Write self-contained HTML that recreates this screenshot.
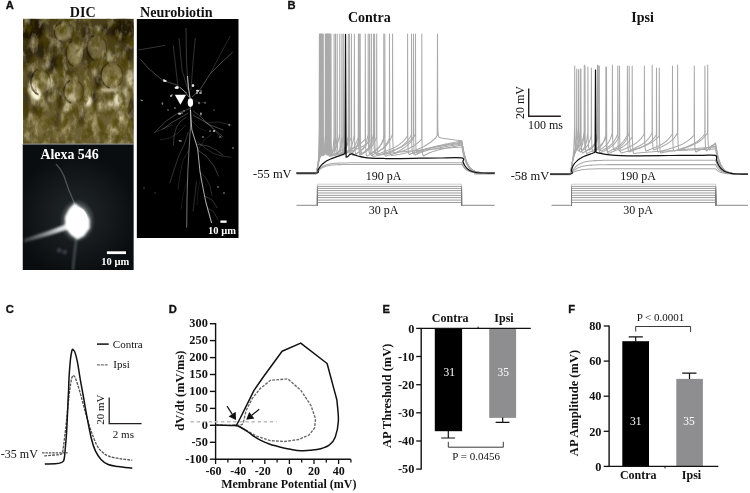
<!DOCTYPE html>
<html><head><meta charset="utf-8"><title>Figure</title>
<style>html,body{margin:0;padding:0;background:#fff}svg{display:block}</style>
</head><body>
<svg width="750" height="493" viewBox="0 0 750 493">
<rect width="750" height="493" fill="#fff"/>
<defs>
<filter id="b05" x="-50%" y="-50%" width="200%" height="200%"><feGaussianBlur stdDeviation="0.6"/></filter>
<filter id="b1" x="-50%" y="-50%" width="200%" height="200%"><feGaussianBlur stdDeviation="1"/></filter>
<filter id="b2" x="-50%" y="-50%" width="200%" height="200%"><feGaussianBlur stdDeviation="1.5"/></filter>
<filter id="b3" x="-50%" y="-50%" width="200%" height="200%"><feGaussianBlur stdDeviation="2.2"/></filter>
<filter id="b4" x="-50%" y="-50%" width="200%" height="200%"><feGaussianBlur stdDeviation="4"/></filter>
<filter id="b8" x="-50%" y="-50%" width="200%" height="200%"><feGaussianBlur stdDeviation="8"/></filter>
<filter id="noise" x="0" y="0" width="100%" height="100%">
<feTurbulence type="fractalNoise" baseFrequency="0.13 0.08" numOctaves="4" seed="4" result="n"/>
<feColorMatrix type="matrix" values="0 0 0 0 0.92  0 0 0 0 0.84  0 0 0 0 0.55  2.6 0 0 0 -1.2"/>
<feGaussianBlur stdDeviation="0.5"/>
</filter>
<filter id="noiseD" x="0" y="0" width="100%" height="100%">
<feTurbulence type="fractalNoise" baseFrequency="0.14 0.085" numOctaves="4" seed="11" result="n"/>
<feColorMatrix type="matrix" values="0 0 0 0 0.07  0 0 0 0 0.05  0 0 0 0 0  0 2.8 0 0 -1.2"/>
<feGaussianBlur stdDeviation="0.5"/>
</filter>
<clipPath id="cDIC"><rect x="23" y="18.7" width="110.8" height="125.3"/></clipPath>
<clipPath id="cAL"><rect x="22.5" y="144.3" width="111.3" height="125.8"/></clipPath>
<clipPath id="cNB"><rect x="136.6" y="18.9" width="102.1" height="219.1"/></clipPath>
<linearGradient id="topdark" x1="0" y1="0" x2="0" y2="1"><stop offset="0" stop-color="#1a1304" stop-opacity="0.3"/><stop offset="0.6" stop-color="#1a1304" stop-opacity="0.15"/><stop offset="1" stop-color="#1a1304" stop-opacity="0"/></linearGradient>
<radialGradient id="glow"><stop offset="0" stop-color="#fff" stop-opacity="1"/><stop offset="0.35" stop-color="#fff" stop-opacity="0.95"/><stop offset="0.6" stop-color="#cfd6d6" stop-opacity="0.45"/><stop offset="1" stop-color="#9aa" stop-opacity="0"/></radialGradient>
<radialGradient id="haze"><stop offset="0" stop-color="#3a4346" stop-opacity="1"/><stop offset="1" stop-color="#3a4346" stop-opacity="0"/></radialGradient>
</defs>
<g clip-path="url(#cDIC)">
<rect x="23" y="18.7" width="110.8" height="125.3" fill="#675c32"/>
<rect x="23" y="112" width="111" height="33" fill="#6f6336" opacity="0.5" filter="url(#b4)"/>
<rect x="23" y="18" width="111" height="40" fill="#2e260c" opacity="0.3" filter="url(#b8)"/>
<ellipse cx="74.8" cy="53.4" rx="8" ry="12" fill="#a09260" opacity="0.7" filter="url(#b2)"/>
<ellipse cx="62" cy="32" rx="9" ry="9" fill="#a09260" opacity="0.7" filter="url(#b2)"/>
<ellipse cx="97" cy="47" rx="10" ry="12" fill="#a09260" opacity="0.6" filter="url(#b2)"/>
<ellipse cx="111.8" cy="75.3" rx="10" ry="12" fill="#a09260" opacity="0.6" filter="url(#b2)"/>
<ellipse cx="40.5" cy="82" rx="9" ry="11" fill="#a09260" opacity="0.5" filter="url(#b2)"/>
<ellipse cx="73.4" cy="91.7" rx="8" ry="10" fill="#a09260" opacity="0.5" filter="url(#b2)"/>
<ellipse cx="90" cy="118" rx="8" ry="12" fill="#a09260" opacity="0.35" filter="url(#b2)"/>
<ellipse cx="40" cy="125" rx="9" ry="10" fill="#a09260" opacity="0.3" filter="url(#b2)"/>
<ellipse cx="118" cy="125" rx="9" ry="10" fill="#a09260" opacity="0.35" filter="url(#b2)"/>
<ellipse cx="64" cy="125" rx="7" ry="10" fill="#a09260" opacity="0.3" filter="url(#b2)"/>
<ellipse cx="32" cy="30" rx="12" ry="12" fill="#140f02" opacity="0.85" filter="url(#b2)"/>
<ellipse cx="28" cy="55" rx="6" ry="14" fill="#140f02" opacity="0.6" filter="url(#b2)"/>
<ellipse cx="45" cy="50" rx="10" ry="10" fill="#140f02" opacity="0.6" filter="url(#b2)"/>
<ellipse cx="123" cy="30" rx="12" ry="12" fill="#140f02" opacity="0.8" filter="url(#b2)"/>
<ellipse cx="128" cy="52" rx="6" ry="10" fill="#140f02" opacity="0.5" filter="url(#b2)"/>
<ellipse cx="58" cy="62" rx="10" ry="6" fill="#140f02" opacity="0.7" filter="url(#b2)"/>
<ellipse cx="86" cy="34" rx="4" ry="10" fill="#140f02" opacity="0.55" filter="url(#b2)"/>
<ellipse cx="88" cy="60" rx="4" ry="10" fill="#140f02" opacity="0.5" filter="url(#b2)"/>
<ellipse cx="50" cy="68" rx="5" ry="5" fill="#140f02" opacity="0.6" filter="url(#b2)"/>
<ellipse cx="98" cy="82" rx="3" ry="9" fill="#140f02" opacity="0.8" filter="url(#b2)"/>
<ellipse cx="94" cy="98" rx="3" ry="7" fill="#140f02" opacity="0.6" filter="url(#b2)"/>
<ellipse cx="48" cy="95" rx="3" ry="9" fill="#140f02" opacity="0.6" filter="url(#b2)"/>
<ellipse cx="60" cy="98" rx="3" ry="12" fill="#140f02" opacity="0.6" filter="url(#b2)"/>
<ellipse cx="38" cy="109" rx="6" ry="5" fill="#140f02" opacity="0.55" filter="url(#b2)"/>
<ellipse cx="32" cy="76" rx="5" ry="4" fill="#140f02" opacity="0.6" filter="url(#b2)"/>
<ellipse cx="57" cy="122" rx="3" ry="12" fill="#140f02" opacity="0.4" filter="url(#b2)"/>
<ellipse cx="82" cy="118" rx="4" ry="8" fill="#140f02" opacity="0.45" filter="url(#b2)"/>
<ellipse cx="131" cy="110" rx="4" ry="12" fill="#140f02" opacity="0.55" filter="url(#b2)"/>
<ellipse cx="108" cy="30" rx="8" ry="6" fill="#140f02" opacity="0.4" filter="url(#b2)"/>
<ellipse cx="70" cy="72" rx="5" ry="4" fill="#140f02" opacity="0.4" filter="url(#b2)"/>
<ellipse cx="26" cy="100" rx="3" ry="20" fill="#140f02" opacity="0.5" filter="url(#b2)"/>
<ellipse cx="34" cy="91" rx="5" ry="9" fill="#fff8dc" opacity="1.0" filter="url(#b2)" transform="rotate(-35 34 91)"/>
<ellipse cx="37" cy="96" rx="4" ry="4" fill="#fff8dc" opacity="1.0" filter="url(#b2)" transform="rotate(0 37 96)"/>
<ellipse cx="51" cy="81" rx="3" ry="6" fill="#fff8dc" opacity="0.8" filter="url(#b2)" transform="rotate(0 51 81)"/>
<ellipse cx="50.5" cy="99" rx="3" ry="3" fill="#fff8dc" opacity="0.7" filter="url(#b2)" transform="rotate(0 50.5 99)"/>
<ellipse cx="108" cy="90" rx="9" ry="1.6" fill="#fff8dc" opacity="0.8" filter="url(#b2)" transform="rotate(0 108 90)"/>
<ellipse cx="88" cy="102" rx="4" ry="5" fill="#fff8dc" opacity="0.85" filter="url(#b2)" transform="rotate(30 88 102)"/>
<ellipse cx="117.5" cy="100" rx="4" ry="6" fill="#fff8dc" opacity="0.85" filter="url(#b2)" transform="rotate(0 117.5 100)"/>
<ellipse cx="120.5" cy="116" rx="4" ry="5" fill="#fff8dc" opacity="0.6" filter="url(#b2)" transform="rotate(0 120.5 116)"/>
<ellipse cx="111" cy="104" rx="4" ry="4" fill="#fff8dc" opacity="0.6" filter="url(#b2)" transform="rotate(0 111 104)"/>
<ellipse cx="100.6" cy="106" rx="3" ry="4" fill="#fff8dc" opacity="0.6" filter="url(#b2)" transform="rotate(0 100.6 106)"/>
<ellipse cx="130" cy="78" rx="3" ry="10" fill="#fff8dc" opacity="0.7" filter="url(#b2)" transform="rotate(0 130 78)"/>
<ellipse cx="46" cy="66" rx="4" ry="3" fill="#fff8dc" opacity="0.55" filter="url(#b2)" transform="rotate(-30 46 66)"/>
<ellipse cx="72" cy="97" rx="5" ry="4" fill="#fff8dc" opacity="0.5" filter="url(#b2)" transform="rotate(0 72 97)"/>
<ellipse cx="126" cy="92" rx="3" ry="5" fill="#fff8dc" opacity="0.5" filter="url(#b2)" transform="rotate(0 126 92)"/>
<ellipse cx="68" cy="108" rx="5" ry="4" fill="#fff8dc" opacity="0.45" filter="url(#b2)" transform="rotate(0 68 108)"/>
<path d="M72.1,41.0 A9,13 0 0 0 73.0,66.0" fill="none" stroke="#140f02" stroke-width="1.6" opacity="0.6" filter="url(#b05)"/>
<path d="M79.3,42.4 A9,13 0 0 1 80.2,63.8" fill="none" stroke="#140f02" stroke-width="1.1" opacity="0.4" filter="url(#b05)"/>
<path d="M108.5,62.9 A11,13 0 0 0 109.6,87.9" fill="none" stroke="#140f02" stroke-width="1.6" opacity="0.6" filter="url(#b05)"/>
<path d="M117.3,64.2 A11,13 0 0 1 118.4,85.7" fill="none" stroke="#140f02" stroke-width="1.1" opacity="0.4" filter="url(#b05)"/>
<path d="M37.5,69.7 A10,13 0 0 0 38.5,94.6" fill="none" stroke="#140f02" stroke-width="1.6" opacity="0.6" filter="url(#b05)"/>
<path d="M45.5,71.0 A10,13 0 0 1 46.5,92.4" fill="none" stroke="#140f02" stroke-width="1.1" opacity="0.4" filter="url(#b05)"/>
<path d="M70.4,80.3 A10,12 0 0 0 71.4,103.3" fill="none" stroke="#140f02" stroke-width="1.6" opacity="0.6" filter="url(#b05)"/>
<path d="M78.4,81.5 A10,12 0 0 1 79.4,101.3" fill="none" stroke="#140f02" stroke-width="1.1" opacity="0.4" filter="url(#b05)"/>
<path d="M61.0,22.5 A10,10 0 0 0 62.0,41.7" fill="none" stroke="#140f02" stroke-width="1.6" opacity="0.6" filter="url(#b05)"/>
<path d="M69.0,23.5 A10,10 0 0 1 70.0,40.0" fill="none" stroke="#140f02" stroke-width="1.1" opacity="0.4" filter="url(#b05)"/>
<path d="M93.7,35.5 A10,13 0 0 0 94.7,60.5" fill="none" stroke="#140f02" stroke-width="1.6" opacity="0.6" filter="url(#b05)"/>
<path d="M101.7,36.9 A10,13 0 0 1 102.7,58.3" fill="none" stroke="#140f02" stroke-width="1.1" opacity="0.4" filter="url(#b05)"/>
<rect x="23" y="18.7" width="110.8" height="62" fill="url(#topdark)"/>
<ellipse cx="64" cy="32" rx="8" ry="8" fill="#b0a678" opacity="0.35" filter="url(#b2)"/>
<ellipse cx="75" cy="53" rx="6" ry="10" fill="#b0a678" opacity="0.3" filter="url(#b2)"/>
<rect x="23" y="18.7" width="110.8" height="125.3" filter="url(#noise)" opacity="0.5"/>
<rect x="23" y="18.7" width="110.8" height="125.3" filter="url(#noiseD)" opacity="0.75"/>
</g>
<rect x="22.5" y="143.6" width="111.3" height="1" fill="#9aa0a0"/>
<g clip-path="url(#cAL)">
<rect x="22.5" y="144.3" width="111.3" height="125.8" fill="#0a0d0f"/>
<ellipse cx="76" cy="215" rx="62" ry="62" fill="url(#haze)" opacity="0.5"/>
<defs><linearGradient id="dl" gradientUnits="userSpaceOnUse" x1="66" y1="226" x2="24" y2="240"><stop offset="0" stop-color="#fff" stop-opacity="1"/><stop offset="0.45" stop-color="#e8eeee" stop-opacity="0.6"/><stop offset="1" stop-color="#c0c8c8" stop-opacity="0.25"/></linearGradient></defs>
<path d="M68,223.5 L48,231 L24,239 L24,242.5 L49,235.5 L69,229 Z" fill="url(#dl)" filter="url(#b1)"/>
<path d="M74.6,204 C72,197 70,193 69.2,191 C67.5,186.5 66,182 64,176 C62,171 59,167 56,164" stroke="#cfd8d8" stroke-width="1.3" fill="none" opacity="0.3" filter="url(#b05)"/>
<path d="M76.6,236 C75.5,246 74.4,254 73.8,260.3 L72.9,270" stroke="#cfd8d8" stroke-width="2.2" fill="none" opacity="0.3" filter="url(#b1)"/>
<circle cx="59.2" cy="250.3" r="2.4" fill="#aab" opacity="0.28" filter="url(#b1)"/>
<circle cx="64.7" cy="252.1" r="2.4" fill="#aab" opacity="0.28" filter="url(#b1)"/>
<ellipse cx="77.3" cy="221" rx="18" ry="22" fill="url(#glow)"/>
<path d="M74.6,203 L84,210 L89.5,219 L89.8,228 L84,236 L77.5,239.5 L71,235 L65.5,228 L65,217 L69,209 Z" fill="#fff" filter="url(#b1)"/>
<ellipse cx="77.3" cy="221.5" rx="10.5" ry="14" fill="#fff" filter="url(#b05)"/>
</g>
<text x="40.4" y="159.4" font-size="13.9" font-weight="bold" text-anchor="start" fill="#fff" font-family='"Liberation Serif", serif'>Alexa 546</text>
<rect x="106.9" y="251.3" width="19.1" height="2.8" fill="#fff"/>
<text x="115.3" y="265.4" font-size="10.5" font-weight="bold" text-anchor="middle" fill="#fff" font-family='"Liberation Serif", serif'>10 µm</text>
<g clip-path="url(#cNB)">
<rect x="136.6" y="18.9" width="102.1" height="219.1" fill="#000"/>
<path d="M190,98 L187.5,80 L186.5,60 L186,28" fill="none" stroke="#fff" stroke-width="0.56" opacity="0.39" stroke-linejoin="round"/>
<path d="M188,90 L182,70 L179,38" fill="none" stroke="#fff" stroke-width="0.56" opacity="0.35" stroke-linejoin="round"/>
<path d="M178,88 L175.5,65 L173.2,45" fill="none" stroke="#fff" stroke-width="0.56" opacity="0.35" stroke-linejoin="round"/>
<path d="M191,90 L193,62 L195.3,38" fill="none" stroke="#fff" stroke-width="0.56" opacity="0.35" stroke-linejoin="round"/>
<path d="M192,97 L200,89.6 L210.5,73.3 L222,62 L232.6,52.3" fill="none" stroke="#fff" stroke-width="0.64" opacity="0.45" stroke-linejoin="round"/>
<path d="M210.5,73.3 L220,55 L230.3,36" fill="none" stroke="#fff" stroke-width="0.48" opacity="0.32" stroke-linejoin="round"/>
<path d="M187,93 L176.7,85 L162.7,80.3 L148.7,68.7 L140.5,59.3" fill="none" stroke="#fff" stroke-width="0.64" opacity="0.42" stroke-linejoin="round"/>
<path d="M138.2,50 L150,48 L165,45.3" fill="none" stroke="#fff" stroke-width="0.96" opacity="0.21" stroke-linejoin="round"/>
<path d="M174.8,94.8 L186,94.8 L180.4,104.8 Z" fill="#fff"/>
<ellipse cx="190.4" cy="102.6" rx="2.7" ry="4.3" fill="#fff"/>
<path d="M190.3,106 L190.6,125 L189,150 L187.8,171.7 L187,200 L186.7,227.6" fill="none" stroke="#fff" stroke-width="0.80" opacity="0.56" stroke-linejoin="round"/>
<path d="M190.5,110 L191.8,129.7 L197.6,148.3 L200,171.7 L203,188 L205.8,202 L211.6,223" fill="none" stroke="#fff" stroke-width="1.04" opacity="0.66" stroke-linejoin="round"/>
<path d="M197.6,150 L206,156 L214,166 L218.6,176.3" fill="none" stroke="#fff" stroke-width="0.56" opacity="0.42" stroke-linejoin="round"/>
<path d="M196,144 L208,146 L216,150 L223.3,155.3" fill="none" stroke="#fff" stroke-width="0.56" opacity="0.39" stroke-linejoin="round"/>
<path d="M204.6,196 L212,200 L217.5,208" fill="none" stroke="#fff" stroke-width="0.56" opacity="0.35" stroke-linejoin="round"/>
<path d="M207,208 L214,212 L218,220" fill="none" stroke="#fff" stroke-width="0.48" opacity="0.35" stroke-linejoin="round"/>
<path d="M188.3,132 L184,145 L179,155.3 L174,170 L169.7,183.3" fill="none" stroke="#fff" stroke-width="0.56" opacity="0.35" stroke-linejoin="round"/>
<path d="M196.5,181 L195,195 L193,211.3" fill="none" stroke="#fff" stroke-width="0.56" opacity="0.32" stroke-linejoin="round"/>
<path d="M155.7,132 L165,128 L172,125" fill="none" stroke="#fff" stroke-width="0.56" opacity="0.28" stroke-linejoin="round"/>
<path d="M188.3,113 L180,118 L172,122.3 L162.7,129.3" fill="none" stroke="#fff" stroke-width="0.64" opacity="0.42" stroke-linejoin="round"/>
<path d="M193,115.3 L200,119 L209.3,124.6 L223.3,130" fill="none" stroke="#fff" stroke-width="0.64" opacity="0.42" stroke-linejoin="round"/>
<path d="M203,120 L212,128 L222,138" fill="none" stroke="#fff" stroke-width="0.48" opacity="0.28" stroke-linejoin="round"/>
<path d="M200,171.7 L206,178 L210,186 L212,196" fill="none" stroke="#fff" stroke-width="0.48" opacity="0.32" stroke-linejoin="round"/>
<path d="M189,150 L183,160 L180,175 L178,190" fill="none" stroke="#fff" stroke-width="0.48" opacity="0.24" stroke-linejoin="round"/>
<path d="M187.5,180 L183,195 L181,210" fill="none" stroke="#fff" stroke-width="0.40" opacity="0.21" stroke-linejoin="round"/>
<path d="M198,150 L204,140 L212,134" fill="none" stroke="#fff" stroke-width="0.40" opacity="0.28" stroke-linejoin="round"/>
<path d="M191,120 L199,128 L206,131" fill="none" stroke="#fff" stroke-width="0.40" opacity="0.28" stroke-linejoin="round"/>
<path d="M186,125 L178,133 L170,138 L160,140" fill="none" stroke="#fff" stroke-width="0.48" opacity="0.28" stroke-linejoin="round"/>
<path d="M193,100 L200,103 L207,102" fill="none" stroke="#fff" stroke-width="0.40" opacity="0.28" stroke-linejoin="round"/>
<path d="M201,176 L198,190 L197,205" fill="none" stroke="#fff" stroke-width="0.40" opacity="0.24" stroke-linejoin="round"/>
<ellipse cx="176.7" cy="87.8" rx="2.2" ry="1.3" fill="#fff" opacity="0.9"/>
<ellipse cx="165" cy="81" rx="1.8" ry="0.9" fill="#fff" opacity="0.9"/>
<ellipse cx="197.6" cy="90.8" rx="1.6" ry="1.0" fill="#fff" opacity="0.9"/>
<ellipse cx="193" cy="85.5" rx="1.2" ry="1.5" fill="#fff" opacity="0.9"/>
<ellipse cx="200.5" cy="93" rx="1.5" ry="0.8" fill="#fff" opacity="0.9"/>
<ellipse cx="171" cy="96" rx="1.2" ry="0.8" fill="#fff" opacity="0.9"/>
<path d="M189,97 L184,91 L180,87.3" fill="none" stroke="#fff" stroke-width="0.80" opacity="0.56" stroke-linejoin="round"/>
<path d="M190,98 L188.5,88 L187.5,76" fill="none" stroke="#fff" stroke-width="1.12" opacity="0.63" stroke-linejoin="round"/>
<path d="M189.7,108.7 L178,113 L166.4,120.9 L160,127 L154.3,133" fill="none" stroke="#fff" stroke-width="0.56" opacity="0.42" stroke-linejoin="round"/>
<path d="M186.7,116.8 L180,122 L176.6,126.9 L174,136 L173.5,145.2" fill="none" stroke="#fff" stroke-width="0.56" opacity="0.39" stroke-linejoin="round"/>
<path d="M192.8,110.7 L200,116 L207,122.9 L215,130 L223.2,137.1" fill="none" stroke="#fff" stroke-width="0.56" opacity="0.42" stroke-linejoin="round"/>
<path d="M207,122.9 L218,122 L231.3,124.9" fill="none" stroke="#fff" stroke-width="0.48" opacity="0.32" stroke-linejoin="round"/>
<path d="M196.9,141.1 L205,148 L213.1,153.3 L222,156 L231.3,157.4" fill="none" stroke="#fff" stroke-width="0.48" opacity="0.35" stroke-linejoin="round"/>
<ellipse cx="179.6" cy="113.8" rx="1.6" ry="1.0" fill="#fff" opacity="0.8"/>
<ellipse cx="142" cy="100.6" rx="1.0" ry="0.7" fill="#fff" opacity="0.6"/>
<ellipse cx="162.4" cy="103.6" rx="0.8" ry="1.4" fill="#fff" opacity="0.5"/>
<ellipse cx="200.9" cy="113.8" rx="0.9" ry="1.6" fill="#fff" opacity="0.6"/>
<ellipse cx="214" cy="131" rx="1.2" ry="0.9" fill="#fff" opacity="0.7"/>
<ellipse cx="203" cy="137" rx="1.0" ry="0.8" fill="#fff" opacity="0.6"/>
<ellipse cx="179.6" cy="140.7" rx="1.0" ry="0.8" fill="#fff" opacity="0.6"/>
<ellipse cx="229.3" cy="125" rx="1.0" ry="1.2" fill="#fff" opacity="0.4"/>
<ellipse cx="175" cy="108" rx="1.2" ry="0.8" fill="#fff" opacity="0.5"/>
<ellipse cx="184" cy="111" rx="1.0" ry="0.7" fill="#fff" opacity="0.5"/>
<ellipse cx="199" cy="103" rx="0.8" ry="1.2" fill="#fff" opacity="0.5"/>
<circle cx="164" cy="80" r="0.96" fill="#fff" opacity="0.7"/>
<circle cx="177" cy="87" r="1.04" fill="#fff" opacity="0.7"/>
<circle cx="197" cy="93" r="0.96" fill="#fff" opacity="0.7"/>
<circle cx="201" cy="91" r="0.80" fill="#fff" opacity="0.7"/>
<circle cx="172" cy="95" r="0.72" fill="#fff" opacity="0.7"/>
<circle cx="168" cy="110" r="0.64" fill="#fff" opacity="0.7"/>
<circle cx="182" cy="113" r="0.80" fill="#fff" opacity="0.7"/>
<circle cx="205" cy="103" r="0.64" fill="#fff" opacity="0.7"/>
<circle cx="210" cy="131" r="0.80" fill="#fff" opacity="0.7"/>
<circle cx="220" cy="137" r="0.72" fill="#fff" opacity="0.7"/>
<circle cx="233" cy="148" r="0.72" fill="#fff" opacity="0.7"/>
<circle cx="181" cy="141" r="0.72" fill="#fff" opacity="0.7"/>
<circle cx="218" cy="187" r="0.72" fill="#fff" opacity="0.7"/>
<circle cx="224" cy="193" r="0.72" fill="#fff" opacity="0.7"/>
<circle cx="144" cy="188" r="0.56" fill="#fff" opacity="0.7"/>
<circle cx="155" cy="193" r="0.48" fill="#fff" opacity="0.7"/>
<circle cx="141" cy="100" r="0.56" fill="#fff" opacity="0.7"/>
<circle cx="214" cy="110" r="0.56" fill="#fff" opacity="0.7"/>
</g>
<rect x="220.4" y="220.5" width="6.2" height="2.3" fill="#fff"/>
<text x="222" y="233.6" font-size="10.5" font-weight="bold" text-anchor="middle" fill="#fff" font-family='"Liberation Serif", serif'>10 µm</text>
<text x="69.8" y="17.4" font-size="14.1" font-weight="bold" text-anchor="start" fill="#111" font-family='"Liberation Serif", serif'>DIC</text>
<text x="140" y="17.2" font-size="14.1" font-weight="bold" text-anchor="start" fill="#111" font-family='"Liberation Serif", serif'>Neurobiotin</text>
<path d="M296.5,173.0 L316.7,173.0 L317.1,169.7 L317.6,166.7 L318.0,163.7 L318.4,159.5 L318.8,150.1 L319.2,126.0 L319.4,34.0 L319.5,139.5 L319.6,147.5 L319.7,151.3 L319.9,153.0 L320.2,153.5 L320.4,152.6 L320.6,151.6 L320.8,150.2 L321.0,147.6 L321.2,142.8 L321.5,134.0 L321.6,34.0 L321.7,139.5 L321.9,147.5 L322.2,151.3 L322.6,153.0 L323.0,153.5 L323.4,152.5 L323.8,151.5 L324.2,150.0 L324.6,147.4 L325.0,142.6 L325.5,134.0 L325.6,34.0 L325.7,139.5 L325.8,147.5 L326.0,151.3 L326.3,153.0 L326.6,153.5 L326.9,152.6 L327.1,151.6 L327.4,150.1 L327.7,147.6 L328.0,142.7 L328.2,134.0 L328.4,34.0 L328.6,139.5 L328.8,147.5 L329.2,151.3 L329.7,153.0 L330.3,153.5 L330.8,153.1 L331.3,152.6 L331.8,152.2 L332.3,151.8 L332.8,151.3 L333.3,150.8 L333.7,150.3 L334.2,149.8 L334.7,149.2 L335.2,148.6 L335.7,147.8 L336.2,146.9 L336.7,145.8 L337.2,144.6 L337.7,143.1 L338.2,141.4 L338.7,139.3 L339.2,136.9 L339.7,134.0 L339.8,34.0 L340.0,139.5 L340.2,147.5 L340.6,151.3 L341.1,153.0 L341.7,153.5 L342.2,153.0 L342.7,152.5 L343.2,152.0 L343.7,151.4 L344.2,150.9 L344.7,150.3 L345.2,149.6 L345.7,148.8 L346.2,147.8 L346.7,146.5 L347.2,145.0 L347.7,143.1 L348.2,140.7 L348.7,137.7 L349.2,134.0 L349.4,34.0 L349.6,139.5 L349.8,147.5 L350.2,151.3 L350.7,153.0 L351.3,153.5 L351.8,153.0 L352.3,152.6 L352.8,152.1 L353.4,151.6 L353.9,151.1 L354.4,150.6 L354.9,150.0 L355.4,149.3 L355.9,148.6 L356.4,147.7 L357.0,146.7 L357.5,145.5 L358.0,143.9 L358.5,142.1 L359.0,139.9 L359.5,137.2 L360.1,134.0 L360.2,34.0 L360.4,139.5 L360.6,147.5 L361.0,151.3 L361.5,153.0 L362.1,153.5 L362.6,153.1 L363.1,152.7 L363.6,152.3 L364.1,151.9 L364.6,151.6 L365.1,151.2 L365.6,150.7 L366.0,150.3 L366.5,149.9 L367.0,149.4 L367.5,148.9 L368.0,148.3 L368.5,147.7 L369.0,146.9 L369.5,146.1 L370.0,145.2 L370.5,144.2 L371.0,143.0 L371.5,141.7 L372.0,140.1 L372.5,138.3 L373.0,136.3 L373.5,134.0 L373.6,34.0 L373.8,139.5 L374.1,147.5 L374.4,151.3 L374.9,153.0 L375.5,153.5 L376.0,153.2 L376.5,152.9 L377.0,152.5 L377.5,152.2 L378.0,151.9 L378.5,151.6 L379.0,151.3 L379.5,150.9 L380.0,150.6 L380.5,150.3 L381.0,149.9 L381.5,149.6 L382.0,149.2 L382.5,148.9 L383.0,148.5 L383.5,148.1 L384.0,147.7 L384.5,147.2 L385.0,146.8 L385.5,146.3 L386.0,145.8 L386.5,145.2 L387.0,144.7 L387.5,144.0 L388.0,143.3 L388.5,142.6 L389.0,141.8 L389.5,140.9 L390.0,140.0 L390.5,139.0 L391.0,137.9 L391.5,136.7 L392.0,135.4 L392.5,134.0 L392.6,34.0 L392.8,139.5 L393.1,147.5 L393.4,151.3 L393.9,153.0 L394.5,153.5 L395.0,153.2 L395.5,152.9 L396.0,152.7 L396.5,152.4 L397.0,152.1 L397.5,151.8 L398.0,151.5 L398.5,151.3 L399.0,151.0 L399.5,150.7 L400.0,150.4 L400.5,150.1 L401.0,149.8 L401.4,149.5 L401.9,149.2 L402.4,148.9 L402.9,148.6 L403.4,148.3 L403.9,148.0 L404.4,147.7 L404.9,147.3 L405.4,146.9 L405.9,146.6 L406.4,146.2 L406.9,145.8 L407.4,145.4 L407.9,144.9 L408.4,144.4 L408.9,143.9 L409.4,143.4 L409.9,142.9 L410.4,142.3 L410.9,141.7 L411.4,141.0 L411.9,140.3 L412.4,139.6 L412.9,138.8 L413.4,137.9 L413.9,137.0 L414.4,136.1 L414.9,135.1 L415.4,134.0 L415.5,34.0 L415.7,139.5 L415.9,147.5 L416.3,151.3 L416.8,153.0 L417.4,153.5 L418.4,152.8 L419.4,152.2 L420.4,151.7 L421.4,151.2 L422.5,150.7 L423.5,150.2 L424.5,149.8 L425.5,149.4 L426.5,149.0 L427.5,148.7 L428.5,148.3 L429.5,148.0 L430.5,147.7 L431.6,147.4 L432.6,147.2 L433.6,146.9 L434.6,146.6 L435.6,146.4 L436.6,146.1 L437.6,145.9 L438.6,145.6 L439.6,145.4 L440.7,145.2 L441.7,145.0 L442.7,144.8 L443.7,144.6 L444.7,144.3 L445.7,144.1 L446.7,143.9 L447.7,143.7 L448.8,143.5 L449.8,143.3 L450.8,143.1 L451.8,142.9 L452.8,142.7 L453.8,142.6 L454.8,142.4 L455.8,142.2 L456.8,142.0 L457.9,141.8 L458.9,141.6 L459.9,141.4 L460.9,141.2 L461.9,141.0 L462.6,145.4 L463.2,149.3 L463.9,152.5 L464.6,155.4 L465.2,157.8 L465.9,159.9 L466.6,161.7 L467.3,163.3 L467.9,164.6 L468.6,165.8 L469.3,166.8 L469.9,167.6 L470.6,168.4 L471.3,169.0 L471.9,169.6 L472.6,170.0 L473.3,170.5 L473.9,170.8 L474.6,171.1 L475.3,171.4 L476.0,171.6 L476.6,171.8 L477.3,172.0 L478.0,172.1 L478.6,172.2 L479.3,172.3 L480.0,172.4 L480.6,172.5 L481.3,172.6 L482.0,172.6 L482.7,172.7 L483.3,172.7 L484.0,172.8 L484.7,172.8 L485.3,172.8 L486.0,172.8 L486.7,172.9 L487.3,172.9 L488.0,172.9 L488.7,172.9 L489.3,172.9 L490.0,172.9 L490.7,172.9 L491.4,173.0 L492.0,173.0 L492.7,173.0 L493.4,173.0 L494.0,173.0 L494.7,173.0" fill="none" stroke="#a9a9a9" stroke-width="1.05" stroke-linejoin="round"/>
<path d="M296.5,173.0 L316.7,173.0 L317.2,169.2 L317.7,165.8 L318.2,162.6 L318.7,158.3 L319.2,149.3 L319.8,127.0 L319.9,34.0 L320.0,140.0 L320.1,148.0 L320.3,151.8 L320.5,153.5 L320.8,154.0 L321.0,153.1 L321.3,152.1 L321.5,150.7 L321.8,148.3 L322.0,143.5 L322.2,135.0 L322.4,34.0 L322.5,140.0 L322.7,148.0 L323.0,151.8 L323.3,153.5 L323.8,154.0 L324.2,153.1 L324.6,152.0 L325.0,150.6 L325.4,148.1 L325.8,143.4 L326.2,135.0 L326.3,34.0 L326.4,140.0 L326.6,148.0 L326.8,151.8 L327.1,153.5 L327.5,154.0 L327.9,153.1 L328.2,152.1 L328.6,150.6 L328.9,148.1 L329.3,143.5 L329.7,135.0 L329.8,34.0 L330.0,140.0 L330.2,148.0 L330.6,151.8 L331.1,153.5 L331.7,154.0 L332.2,153.1 L332.7,152.2 L333.3,151.1 L333.8,149.5 L334.3,146.8 L334.8,142.3 L335.4,135.0 L335.5,34.0 L335.7,140.0 L335.9,148.0 L336.3,151.8 L336.8,153.5 L337.4,154.0 L337.9,153.4 L338.4,152.8 L339.0,152.1 L339.5,151.4 L340.0,150.6 L340.5,149.5 L341.1,148.1 L341.6,146.2 L342.1,143.5 L342.6,139.9 L343.2,135.0 L343.3,34.0 L343.5,140.0 L343.8,148.0 L344.1,151.8 L344.6,153.5 L345.2,154.0 L345.7,153.6 L346.2,153.1 L346.7,152.7 L347.2,152.2 L347.7,151.8 L348.2,151.3 L348.7,150.8 L349.2,150.2 L349.7,149.6 L350.2,148.8 L350.7,148.0 L351.2,146.9 L351.7,145.7 L352.2,144.3 L352.7,142.5 L353.2,140.4 L353.7,138.0 L354.2,135.0 L354.4,34.0 L354.6,140.0 L354.8,148.0 L355.2,151.8 L355.7,153.5 L356.3,154.0 L356.8,153.6 L357.3,153.2 L357.8,152.8 L358.3,152.5 L358.9,152.1 L359.4,151.7 L359.9,151.3 L360.4,150.8 L360.9,150.4 L361.4,149.9 L361.9,149.4 L362.4,148.9 L362.9,148.2 L363.5,147.5 L364.0,146.8 L364.5,145.9 L365.0,144.9 L365.5,143.7 L366.0,142.4 L366.5,140.9 L367.0,139.2 L367.5,137.2 L368.1,135.0 L368.2,34.0 L368.4,140.0 L368.6,148.0 L369.0,151.8 L369.5,153.5 L370.1,154.0 L370.6,153.7 L371.1,153.3 L371.6,153.0 L372.1,152.7 L372.6,152.3 L373.1,152.0 L373.6,151.6 L374.1,151.3 L374.6,150.9 L375.1,150.6 L375.6,150.2 L376.1,149.8 L376.6,149.4 L377.1,148.9 L377.6,148.5 L378.1,148.0 L378.6,147.4 L379.1,146.9 L379.6,146.2 L380.1,145.5 L380.6,144.8 L381.1,143.9 L381.6,143.0 L382.1,142.0 L382.6,140.8 L383.1,139.6 L383.6,138.2 L384.1,136.7 L384.7,135.0 L384.8,34.0 L385.0,140.0 L385.2,148.0 L385.6,151.8 L386.1,153.5 L386.7,154.0 L387.2,153.8 L387.7,153.5 L388.2,153.3 L388.7,153.1 L389.2,152.8 L389.7,152.6 L390.2,152.4 L390.7,152.1 L391.2,151.9 L391.7,151.7 L392.2,151.4 L392.7,151.2 L393.2,151.0 L393.7,150.7 L394.2,150.5 L394.7,150.2 L395.3,150.0 L395.8,149.7 L396.3,149.5 L396.8,149.2 L397.3,148.9 L397.8,148.7 L398.3,148.4 L398.8,148.1 L399.3,147.8 L399.8,147.5 L400.3,147.2 L400.8,146.9 L401.3,146.5 L401.8,146.2 L402.3,145.8 L402.8,145.4 L403.3,145.0 L403.8,144.6 L404.3,144.2 L404.8,143.7 L405.3,143.2 L405.8,142.7 L406.3,142.2 L406.8,141.6 L407.3,141.1 L407.8,140.4 L408.3,139.8 L408.8,139.1 L409.3,138.3 L409.8,137.6 L410.3,136.8 L410.8,135.9 L411.4,135.0 L411.5,34.0 L411.7,140.0 L411.9,148.0 L412.3,151.8 L412.8,153.5 L413.4,154.0 L414.4,153.4 L415.4,152.9 L416.4,152.4 L417.4,151.9 L418.5,151.5 L419.5,151.1 L420.5,150.7 L421.5,150.3 L422.5,150.0 L423.5,149.7 L424.5,149.3 L425.5,149.1 L426.5,148.8 L427.5,148.5 L428.6,148.2 L429.6,148.0 L430.6,147.8 L431.6,147.5 L432.6,147.3 L433.6,147.1 L434.6,146.9 L435.6,146.6 L436.6,146.4 L437.6,146.2 L438.7,146.0 L439.7,145.9 L440.7,145.7 L441.7,145.5 L442.7,145.3 L443.7,145.1 L444.7,144.9 L445.7,144.7 L446.7,144.6 L447.8,144.4 L448.8,144.2 L449.8,144.0 L450.8,143.9 L451.8,143.7 L452.8,143.5 L453.8,143.4 L454.8,143.2 L455.8,143.0 L456.8,142.9 L457.9,142.7 L458.9,142.5 L459.9,142.4 L460.9,142.2 L461.9,142.0 L462.6,146.3 L463.2,150.0 L463.9,153.2 L464.6,155.9 L465.2,158.3 L465.9,160.3 L466.6,162.1 L467.3,163.6 L467.9,164.9 L468.6,166.0 L469.3,167.0 L469.9,167.8 L470.6,168.5 L471.3,169.1 L471.9,169.7 L472.6,170.1 L473.3,170.5 L473.9,170.9 L474.6,171.2 L475.3,171.4 L476.0,171.6 L476.6,171.8 L477.3,172.0 L478.0,172.1 L478.6,172.2 L479.3,172.4 L480.0,172.4 L480.6,172.5 L481.3,172.6 L482.0,172.6 L482.7,172.7 L483.3,172.7 L484.0,172.8 L484.7,172.8 L485.3,172.8 L486.0,172.9 L486.7,172.9 L487.3,172.9 L488.0,172.9 L488.7,172.9 L489.3,172.9 L490.0,172.9 L490.7,172.9 L491.4,173.0 L492.0,173.0 L492.7,173.0 L493.4,173.0 L494.0,173.0 L494.7,173.0" fill="none" stroke="#a9a9a9" stroke-width="1.05" stroke-linejoin="round"/>
<path d="M296.5,173.0 L316.7,173.0 L317.2,169.2 L317.7,165.9 L318.3,162.9 L318.8,159.8 L319.3,155.3 L319.8,146.6 L320.4,128.0 L320.5,34.0 L320.6,140.5 L320.8,148.5 L321.0,152.3 L321.3,154.0 L321.6,154.5 L321.9,153.6 L322.3,152.6 L322.6,151.3 L322.9,148.8 L323.2,144.3 L323.6,136.0 L323.7,34.0 L323.8,140.5 L324.0,148.5 L324.2,152.3 L324.6,154.0 L325.0,154.5 L325.3,153.6 L325.7,152.6 L326.1,151.2 L326.4,148.8 L326.8,144.2 L327.2,136.0 L327.3,34.0 L327.4,140.5 L327.6,148.5 L327.8,152.3 L328.2,154.0 L328.6,154.5 L329.0,153.6 L329.3,152.6 L329.7,151.2 L330.1,148.8 L330.5,144.2 L330.9,136.0 L331.0,34.0 L331.2,140.5 L331.4,148.5 L331.8,152.3 L332.3,154.0 L332.9,154.5 L333.4,153.7 L333.9,153.0 L334.5,152.1 L335.0,150.9 L335.5,149.2 L336.0,146.5 L336.5,142.4 L337.1,136.0 L337.2,34.0 L337.4,140.5 L337.6,148.5 L338.0,152.3 L338.5,154.0 L339.1,154.5 L339.6,154.1 L340.1,153.6 L340.6,153.2 L341.1,152.8 L341.6,152.3 L342.1,151.9 L342.6,151.4 L343.1,150.8 L343.6,150.2 L344.1,149.5 L344.6,148.6 L345.1,147.6 L345.6,146.4 L346.1,145.0 L346.6,143.3 L347.1,141.3 L347.6,138.9 L348.2,136.0 L348.3,34.0 L348.5,140.5 L348.8,148.5 L349.1,152.3 L349.6,154.0 L350.2,154.5 L350.7,154.1 L351.2,153.6 L351.7,153.2 L352.2,152.8 L352.7,152.3 L353.2,151.9 L353.7,151.4 L354.2,150.8 L354.7,150.2 L355.2,149.5 L355.7,148.6 L356.2,147.6 L356.7,146.5 L357.2,145.0 L357.7,143.3 L358.2,141.3 L358.7,138.9 L359.2,136.0 L359.3,34.0 L359.5,140.5 L359.8,148.5 L360.1,152.3 L360.6,154.0 L361.2,154.5 L361.7,154.2 L362.2,153.8 L362.7,153.5 L363.2,153.1 L363.7,152.7 L364.3,152.4 L364.8,152.0 L365.3,151.7 L365.8,151.3 L366.3,150.9 L366.8,150.5 L367.3,150.0 L367.8,149.5 L368.3,149.0 L368.8,148.5 L369.4,147.8 L369.9,147.2 L370.4,146.4 L370.9,145.6 L371.4,144.6 L371.9,143.6 L372.4,142.4 L372.9,141.0 L373.4,139.5 L373.9,137.9 L374.5,136.0 L374.6,34.0 L374.8,140.5 L375.1,148.5 L375.4,152.3 L375.9,154.0 L376.5,154.5 L377.0,154.3 L377.5,154.1 L378.0,154.0 L378.5,153.8 L379.0,153.6 L379.5,153.4 L380.0,153.2 L380.5,153.1 L381.0,152.9 L381.5,152.7 L382.0,152.5 L382.5,152.3 L383.0,152.2 L383.5,152.0 L384.0,151.8 L384.5,151.6 L385.0,151.4 L385.5,151.2 L386.0,151.1 L386.5,150.9 L387.0,150.7 L387.5,150.5 L388.0,150.3 L388.5,150.1 L389.0,149.9 L389.5,149.7 L390.0,149.5 L390.5,149.3 L391.0,149.1 L391.5,148.8 L392.0,148.6 L392.5,148.4 L393.0,148.2 L393.5,147.9 L394.0,147.7 L394.5,147.4 L395.0,147.2 L395.5,146.9 L396.0,146.6 L396.5,146.3 L397.0,146.0 L397.5,145.7 L398.0,145.4 L398.5,145.0 L399.0,144.7 L399.5,144.3 L400.0,144.0 L400.5,143.6 L401.0,143.2 L401.5,142.7 L402.0,142.3 L402.5,141.8 L403.0,141.4 L403.5,140.9 L404.0,140.3 L404.5,139.8 L405.0,139.2 L405.5,138.6 L406.0,138.0 L406.5,137.4 L407.0,136.7 L407.5,136.0 L407.6,34.0 L407.8,140.5 L408.1,148.5 L408.4,152.3 L408.9,154.0 L409.5,154.5 L410.5,154.0 L411.5,153.5 L412.5,153.1 L413.5,152.6 L414.5,152.2 L415.5,151.9 L416.6,151.5 L417.6,151.2 L418.6,150.9 L419.6,150.6 L420.6,150.3 L421.6,150.0 L422.6,149.8 L423.6,149.5 L424.6,149.3 L425.6,149.0 L426.6,148.8 L427.6,148.6 L428.6,148.4 L429.7,148.2 L430.7,148.0 L431.7,147.8 L432.7,147.6 L433.7,147.4 L434.7,147.2 L435.7,147.1 L436.7,146.9 L437.7,146.7 L438.7,146.6 L439.7,146.4 L440.7,146.2 L441.7,146.1 L442.8,145.9 L443.8,145.7 L444.8,145.6 L445.8,145.4 L446.8,145.3 L447.8,145.1 L448.8,145.0 L449.8,144.8 L450.8,144.7 L451.8,144.5 L452.8,144.4 L453.8,144.2 L454.8,144.1 L455.9,143.9 L456.9,143.8 L457.9,143.6 L458.9,143.5 L459.9,143.3 L460.9,143.2 L461.9,143.0 L462.6,147.2 L463.2,150.7 L463.9,153.8 L464.6,156.5 L465.2,158.8 L465.9,160.7 L466.6,162.4 L467.3,163.9 L467.9,165.1 L468.6,166.2 L469.3,167.2 L469.9,168.0 L470.6,168.7 L471.3,169.3 L471.9,169.8 L472.6,170.2 L473.3,170.6 L473.9,170.9 L474.6,171.2 L475.3,171.5 L476.0,171.7 L476.6,171.9 L477.3,172.0 L478.0,172.2 L478.6,172.3 L479.3,172.4 L480.0,172.5 L480.6,172.5 L481.3,172.6 L482.0,172.7 L482.7,172.7 L483.3,172.7 L484.0,172.8 L484.7,172.8 L485.3,172.8 L486.0,172.9 L486.7,172.9 L487.3,172.9 L488.0,172.9 L488.7,172.9 L489.3,172.9 L490.0,172.9 L490.7,173.0 L491.4,173.0 L492.0,173.0 L492.7,173.0 L493.4,173.0 L494.0,173.0 L494.7,173.0" fill="none" stroke="#a9a9a9" stroke-width="1.05" stroke-linejoin="round"/>
<path d="M296.5,173.0 L316.7,173.0 L317.2,169.4 L317.7,166.1 L318.3,163.3 L318.8,160.6 L319.3,157.6 L319.8,153.1 L320.3,144.9 L320.9,129.0 L321.0,34.0 L321.2,141.0 L321.4,149.0 L321.7,152.8 L322.2,154.5 L322.7,155.0 L323.2,154.1 L323.7,153.1 L324.2,151.7 L324.7,149.3 L325.2,144.9 L325.8,137.0 L325.9,34.0 L326.0,141.0 L326.2,149.0 L326.4,152.8 L326.6,154.5 L327.0,155.0 L327.3,154.1 L327.6,153.2 L327.9,151.9 L328.2,149.5 L328.5,145.1 L328.9,137.0 L329.0,34.0 L329.2,141.0 L329.4,149.0 L329.8,152.8 L330.2,154.5 L330.8,155.0 L331.3,154.1 L331.8,153.1 L332.4,151.7 L332.9,149.3 L333.4,144.9 L334.0,137.0 L334.1,34.0 L334.3,141.0 L334.6,149.0 L334.9,152.8 L335.4,154.5 L336.0,155.0 L336.5,154.4 L337.0,153.8 L337.6,153.2 L338.1,152.5 L338.6,151.8 L339.1,150.7 L339.7,149.4 L340.2,147.6 L340.7,145.1 L341.2,141.6 L341.8,137.0 L341.9,34.0 L342.1,141.0 L342.3,149.0 L342.7,152.8 L343.2,154.5 L343.8,155.0 L344.3,154.7 L344.8,154.4 L345.3,154.0 L345.8,153.7 L346.3,153.4 L346.8,153.1 L347.3,152.8 L347.8,152.4 L348.3,152.1 L348.8,151.7 L349.3,151.4 L349.8,151.0 L350.3,150.6 L350.8,150.2 L351.3,149.8 L351.8,149.3 L352.3,148.8 L352.8,148.2 L353.3,147.6 L353.8,147.0 L354.3,146.3 L354.8,145.5 L355.3,144.6 L355.8,143.6 L356.3,142.5 L356.8,141.4 L357.3,140.0 L357.8,138.6 L358.2,137.0 L358.4,34.0 L358.6,141.0 L358.8,149.0 L359.2,152.8 L359.7,154.5 L360.3,155.0 L360.8,154.7 L361.3,154.4 L361.8,154.1 L362.3,153.8 L362.8,153.5 L363.3,153.2 L363.9,152.8 L364.4,152.5 L364.9,152.2 L365.4,151.9 L365.9,151.6 L366.4,151.2 L366.9,150.9 L367.4,150.5 L367.9,150.1 L368.4,149.7 L368.9,149.3 L369.4,148.9 L369.9,148.4 L370.5,147.9 L371.0,147.3 L371.5,146.7 L372.0,146.1 L372.5,145.4 L373.0,144.6 L373.5,143.8 L374.0,142.9 L374.5,141.9 L375.0,140.8 L375.5,139.7 L376.0,138.4 L376.6,137.0 L376.7,34.0 L376.9,141.0 L377.1,149.0 L377.5,152.8 L378.0,154.5 L378.6,155.0 L379.1,154.8 L379.6,154.7 L380.1,154.5 L380.6,154.4 L381.1,154.2 L381.6,154.1 L382.1,153.9 L382.6,153.7 L383.1,153.6 L383.6,153.4 L384.1,153.3 L384.6,153.1 L385.1,153.0 L385.7,152.8 L386.2,152.6 L386.7,152.5 L387.2,152.3 L387.7,152.2 L388.2,152.0 L388.7,151.8 L389.2,151.7 L389.7,151.5 L390.2,151.3 L390.7,151.2 L391.2,151.0 L391.7,150.8 L392.2,150.7 L392.7,150.5 L393.2,150.3 L393.7,150.1 L394.2,150.0 L394.7,149.8 L395.2,149.6 L395.7,149.4 L396.2,149.2 L396.7,149.0 L397.2,148.8 L397.7,148.6 L398.2,148.3 L398.7,148.1 L399.2,147.9 L399.8,147.7 L400.3,147.4 L400.8,147.2 L401.3,146.9 L401.8,146.6 L402.3,146.4 L402.8,146.1 L403.3,145.8 L403.8,145.5 L404.3,145.2 L404.8,144.8 L405.3,144.5 L405.8,144.2 L406.3,143.8 L406.8,143.4 L407.3,143.0 L407.8,142.6 L408.3,142.2 L408.8,141.8 L409.3,141.3 L409.8,140.8 L410.3,140.4 L410.8,139.9 L411.3,139.3 L411.8,138.8 L412.3,138.2 L412.8,137.6 L413.4,137.0 L413.5,34.0 L413.7,141.0 L413.9,149.0 L414.3,152.8 L414.8,154.5 L415.4,155.0 L416.4,154.4 L417.4,153.9 L418.4,153.5 L419.4,153.0 L420.5,152.6 L421.5,152.2 L422.5,151.9 L423.5,151.5 L424.5,151.2 L425.5,150.9 L426.5,150.6 L427.5,150.3 L428.5,150.1 L429.6,149.8 L430.6,149.6 L431.6,149.3 L432.6,149.1 L433.6,148.9 L434.6,148.7 L435.6,148.5 L436.6,148.3 L437.6,148.1 L438.6,147.9 L439.7,147.7 L440.7,147.5 L441.7,147.3 L442.7,147.2 L443.7,147.0 L444.7,146.8 L445.7,146.6 L446.7,146.5 L447.7,146.3 L448.8,146.1 L449.8,146.0 L450.8,145.8 L451.8,145.6 L452.8,145.5 L453.8,145.3 L454.8,145.1 L455.8,145.0 L456.8,144.8 L457.9,144.7 L458.9,144.5 L459.9,144.3 L460.9,144.2 L461.9,144.0 L462.6,148.0 L463.2,151.5 L463.9,154.5 L464.6,157.0 L465.2,159.2 L465.9,161.1 L466.6,162.8 L467.3,164.2 L467.9,165.4 L468.6,166.5 L469.3,167.4 L469.9,168.1 L470.6,168.8 L471.3,169.4 L471.9,169.9 L472.6,170.3 L473.3,170.7 L473.9,171.0 L474.6,171.3 L475.3,171.5 L476.0,171.7 L476.6,171.9 L477.3,172.1 L478.0,172.2 L478.6,172.3 L479.3,172.4 L480.0,172.5 L480.6,172.6 L481.3,172.6 L482.0,172.7 L482.7,172.7 L483.3,172.8 L484.0,172.8 L484.7,172.8 L485.3,172.8 L486.0,172.9 L486.7,172.9 L487.3,172.9 L488.0,172.9 L488.7,172.9 L489.3,172.9 L490.0,172.9 L490.7,173.0 L491.4,173.0 L492.0,173.0 L492.7,173.0 L493.4,173.0 L494.0,173.0 L494.7,173.0" fill="none" stroke="#a9a9a9" stroke-width="1.05" stroke-linejoin="round"/>
<path d="M296.5,173.0 L316.7,173.0 L317.2,169.8 L317.7,167.0 L318.1,164.5 L318.6,161.7 L319.1,157.6 L319.6,149.3 L320.1,131.0 L320.2,34.0 L320.4,142.0 L320.6,150.0 L321.0,153.8 L321.5,155.5 L322.1,156.0 L322.6,155.5 L323.1,155.0 L323.6,154.5 L324.1,154.0 L324.6,153.4 L325.1,152.8 L325.6,151.9 L326.1,150.9 L326.6,149.6 L327.1,147.9 L327.6,145.6 L328.1,142.7 L328.7,139.0 L328.8,34.0 L329.0,142.0 L329.2,150.0 L329.6,153.8 L330.1,155.5 L330.7,156.0 L331.2,155.9 L331.7,155.7 L332.2,155.6 L332.7,155.4 L333.2,155.3 L333.7,155.1 L334.2,155.0 L334.7,154.8 L335.2,154.7 L335.7,154.5 L336.2,154.4 L336.7,154.2 L337.2,154.1 L337.7,153.9 L338.2,153.8 L338.7,153.6 L339.2,153.5 L339.7,153.3 L340.2,153.2 L340.7,153.0 L341.2,152.9 L341.7,152.7 L342.2,152.6 L342.7,152.4 L343.2,152.2 L343.7,152.1 L344.2,151.9 L344.7,151.7 L345.2,151.6 L345.7,151.4 L346.2,151.2 L346.7,151.1 L347.2,150.9 L347.7,150.7 L348.2,150.5 L348.7,150.3 L349.2,150.1 L349.7,149.9 L350.2,149.7 L350.7,149.5 L351.2,149.3 L351.7,149.1 L352.2,148.8 L352.7,148.6 L353.2,148.4 L353.7,148.1 L354.2,147.8 L354.7,147.6 L355.2,147.3 L355.7,147.0 L356.2,146.7 L356.7,146.4 L357.2,146.1 L357.7,145.8 L358.2,145.4 L358.7,145.1 L359.2,144.7 L359.7,144.3 L360.2,143.9 L360.7,143.5 L361.2,143.1 L361.7,142.6 L362.2,142.2 L362.7,141.7 L363.2,141.2 L363.7,140.7 L364.2,140.1 L364.7,139.6 L365.2,139.0 L365.3,34.0 L365.5,142.0 L365.8,150.0 L366.1,153.8 L366.6,155.5 L367.2,156.0 L367.7,155.7 L368.2,155.4 L368.7,155.2 L369.2,154.9 L369.7,154.6 L370.2,154.3 L370.7,154.0 L371.2,153.7 L371.7,153.4 L372.2,153.1 L372.7,152.8 L373.2,152.5 L373.7,152.2 L374.2,151.9 L374.7,151.5 L375.2,151.2 L375.7,150.8 L376.2,150.4 L376.7,150.0 L377.2,149.5 L377.7,149.1 L378.2,148.5 L378.7,148.0 L379.2,147.4 L379.7,146.7 L380.2,146.0 L380.7,145.3 L381.2,144.4 L381.7,143.5 L382.2,142.5 L382.7,141.4 L383.2,140.3 L383.7,139.0 L383.8,34.0 L384.0,142.0 L384.2,150.0 L384.6,153.8 L385.1,155.5 L385.7,156.0 L386.2,155.9 L386.7,155.7 L387.2,155.6 L387.7,155.4 L388.2,155.3 L388.7,155.1 L389.2,155.0 L389.7,154.9 L390.2,154.7 L390.7,154.6 L391.2,154.4 L391.7,154.3 L392.2,154.2 L392.7,154.0 L393.2,153.9 L393.7,153.7 L394.2,153.6 L394.7,153.4 L395.2,153.3 L395.7,153.1 L396.2,153.0 L396.7,152.9 L397.2,152.7 L397.7,152.6 L398.2,152.4 L398.7,152.2 L399.2,152.1 L399.7,151.9 L400.2,151.8 L400.7,151.6 L401.2,151.5 L401.7,151.3 L402.2,151.1 L402.7,151.0 L403.2,150.8 L403.7,150.6 L404.2,150.4 L404.7,150.2 L405.2,150.0 L405.7,149.9 L406.2,149.7 L406.7,149.4 L407.2,149.2 L407.7,149.0 L408.2,148.8 L408.7,148.6 L409.2,148.3 L409.7,148.1 L410.2,147.9 L410.7,147.6 L411.2,147.3 L411.7,147.1 L412.2,146.8 L412.7,146.5 L413.2,146.2 L413.7,145.9 L414.2,145.5 L414.7,145.2 L415.2,144.9 L415.7,144.5 L416.2,144.1 L416.7,143.7 L417.2,143.3 L417.7,142.9 L418.2,142.5 L418.7,142.1 L419.2,141.6 L419.7,141.1 L420.2,140.6 L420.7,140.1 L421.2,139.6 L421.7,139.0 L421.8,34.0 L422.0,142.0 L422.2,150.0 L422.6,153.8 L423.1,155.5 L423.7,156.0 L424.7,155.3 L425.7,154.7 L426.7,154.2 L427.7,153.7 L428.7,153.2 L429.7,152.8 L430.7,152.4 L431.7,152.0 L432.7,151.6 L433.8,151.3 L434.8,151.0 L435.8,150.7 L436.8,150.4 L437.8,150.1 L438.8,149.9 L439.8,149.6 L440.8,149.4 L441.8,149.1 L442.8,148.9 L443.8,148.7 L444.8,148.4 L445.8,148.2 L446.8,148.0 L447.8,147.8 L448.8,147.6 L449.8,147.4 L450.8,147.2 L451.8,147.0 L452.9,146.8 L453.9,146.6 L454.9,146.4 L455.9,146.2 L456.9,146.0 L457.9,145.8 L458.9,145.6 L459.9,145.4 L460.9,145.2 L461.9,145.0 L462.6,148.9 L463.2,152.2 L463.9,155.1 L464.6,157.6 L465.2,159.7 L465.9,161.5 L466.6,163.1 L467.3,164.5 L467.9,165.7 L468.6,166.7 L469.3,167.6 L469.9,168.3 L470.6,169.0 L471.3,169.5 L471.9,170.0 L472.6,170.4 L473.3,170.8 L473.9,171.1 L474.6,171.3 L475.3,171.6 L476.0,171.8 L476.6,171.9 L477.3,172.1 L478.0,172.2 L478.6,172.3 L479.3,172.4 L480.0,172.5 L480.6,172.6 L481.3,172.6 L482.0,172.7 L482.7,172.7 L483.3,172.8 L484.0,172.8 L484.7,172.8 L485.3,172.8 L486.0,172.9 L486.7,172.9 L487.3,172.9 L488.0,172.9 L488.7,172.9 L489.3,172.9 L490.0,172.9 L490.7,173.0 L491.4,173.0 L492.0,173.0 L492.7,173.0 L493.4,173.0 L494.0,173.0 L494.7,173.0" fill="none" stroke="#a9a9a9" stroke-width="1.05" stroke-linejoin="round"/>
<path d="M296.5,173.0 L316.7,173.0 L317.2,169.8 L317.7,167.1 L318.2,164.6 L318.7,162.4 L319.2,160.5 L319.7,158.8 L320.2,157.3 L320.7,156.0 L321.2,154.8 L321.7,153.7 L322.2,152.7 L322.7,151.8 L323.2,150.9 L323.7,149.9 L324.2,148.9 L324.7,147.8 L325.2,146.4 L325.7,144.7 L326.2,142.6 L326.7,139.9 L327.2,136.4 L327.7,132.0 L327.8,34.0 L328.0,142.5 L328.2,150.5 L328.6,154.3 L329.1,156.0 L329.7,156.5 L330.2,156.4 L330.7,156.3 L331.2,156.1 L331.7,156.0 L332.2,155.9 L332.7,155.8 L333.2,155.7 L333.7,155.5 L334.2,155.4 L334.7,155.3 L335.2,155.2 L335.7,155.1 L336.2,154.9 L336.7,154.8 L337.2,154.7 L337.7,154.6 L338.2,154.5 L338.7,154.3 L339.2,154.2 L339.7,154.1 L340.2,154.0 L340.7,153.9 L341.2,153.7 L341.7,153.6 L342.2,153.5 L342.7,153.4 L343.2,153.2 L343.7,153.1 L344.2,153.0 L344.7,152.9 L345.2,152.7 L345.7,152.6 L346.2,152.5 L346.7,152.3 L347.2,152.2 L347.7,152.1 L348.2,151.9 L348.7,151.8 L349.2,151.6 L349.7,151.5 L350.2,151.3 L350.7,151.2 L351.2,151.0 L351.7,150.9 L352.2,150.7 L352.7,150.5 L353.2,150.4 L353.7,150.2 L354.2,150.0 L354.7,149.9 L355.2,149.7 L355.7,149.5 L356.2,149.3 L356.7,149.1 L357.2,148.9 L357.7,148.7 L358.2,148.5 L358.7,148.3 L359.2,148.0 L359.7,147.8 L360.2,147.6 L360.7,147.3 L361.2,147.1 L361.7,146.8 L362.2,146.6 L362.7,146.3 L363.2,146.0 L363.7,145.7 L364.2,145.4 L364.7,145.1 L365.2,144.8 L365.7,144.4 L366.2,144.1 L366.7,143.7 L367.2,143.4 L367.7,143.0 L368.2,142.6 L368.7,142.2 L369.2,141.8 L369.7,141.4 L370.2,140.9 L370.7,140.5 L371.2,140.0 L371.4,34.0 L371.6,142.5 L371.8,150.5 L372.2,154.3 L372.7,156.0 L373.3,156.5 L374.3,156.2 L375.3,156.0 L376.3,155.8 L377.3,155.5 L378.3,155.3 L379.3,155.1 L380.3,154.9 L381.4,154.7 L382.4,154.5 L383.4,154.4 L384.4,154.2 L385.4,154.0 L386.4,153.9 L387.4,153.7 L388.4,153.5 L389.4,153.4 L390.4,153.2 L391.4,153.1 L392.4,153.0 L393.4,152.8 L394.4,152.7 L395.4,152.6 L396.5,152.5 L397.5,152.3 L398.5,152.2 L399.5,152.1 L400.5,152.0 L401.5,151.9 L402.5,151.8 L403.5,151.7 L404.5,151.6 L405.5,151.5 L406.5,151.4 L407.5,151.3 L408.5,151.2 L409.5,151.1 L410.6,151.0 L411.6,150.9 L412.6,150.8 L413.6,150.7 L414.6,150.6 L415.6,150.5 L416.6,150.4 L417.6,150.4 L418.6,150.3 L419.6,150.2 L420.6,150.1 L421.6,150.0 L422.6,149.9 L423.6,149.9 L424.6,149.8 L425.7,149.7 L426.7,149.6 L427.7,149.5 L428.7,149.5 L429.7,149.4 L430.7,149.3 L431.7,149.2 L432.7,149.2 L433.7,149.1 L434.7,149.0 L435.7,148.9 L436.7,148.8 L437.7,148.8 L438.7,148.7 L439.8,148.6 L440.8,148.5 L441.8,148.5 L442.8,148.4 L443.8,148.3 L444.8,148.3 L445.8,148.2 L446.8,148.1 L447.8,148.0 L448.8,148.0 L449.8,147.9 L450.8,147.8 L451.8,147.7 L452.8,147.7 L453.8,147.6 L454.9,147.5 L455.9,147.5 L456.9,147.4 L457.9,147.3 L458.9,147.2 L459.9,147.2 L460.9,147.1 L461.9,147.0 L462.6,150.6 L463.2,153.7 L463.9,156.4 L464.6,158.7 L465.2,160.7 L465.9,162.4 L466.6,163.8 L467.3,165.1 L467.9,166.2 L468.6,167.1 L469.3,167.9 L469.9,168.6 L470.6,169.2 L471.3,169.8 L471.9,170.2 L472.6,170.6 L473.3,170.9 L473.9,171.2 L474.6,171.5 L475.3,171.7 L476.0,171.9 L476.6,172.0 L477.3,172.2 L478.0,172.3 L478.6,172.4 L479.3,172.5 L480.0,172.5 L480.6,172.6 L481.3,172.7 L482.0,172.7 L482.7,172.7 L483.3,172.8 L484.0,172.8 L484.7,172.8 L485.3,172.9 L486.0,172.9 L486.7,172.9 L487.3,172.9 L488.0,172.9 L488.7,172.9 L489.3,172.9 L490.0,172.9 L490.7,173.0 L491.4,173.0 L492.0,173.0 L492.7,173.0 L493.4,173.0 L494.0,173.0 L494.7,173.0" fill="none" stroke="#a9a9a9" stroke-width="1.05" stroke-linejoin="round"/>
<path d="M296.5,173.0 L316.7,173.0 L317.2,169.5 L317.7,166.4 L318.2,163.7 L318.8,161.3 L319.3,159.0 L319.8,156.6 L320.3,153.7 L320.8,149.2 L321.3,142.1 L321.9,130.0 L322.0,34.0 L322.2,141.5 L322.4,149.5 L322.7,153.3 L323.2,155.0 L323.7,155.5 L324.2,154.6 L324.7,153.6 L325.2,152.3 L325.7,150.0 L326.2,145.7 L326.8,138.0 L326.9,34.0 L327.0,141.5 L327.2,149.5 L327.4,153.3 L327.7,155.0 L328.1,155.5 L328.5,154.6 L328.8,153.7 L329.2,152.4 L329.5,150.1 L329.9,145.8 L330.2,138.0 L330.4,34.0 L330.6,141.5 L330.8,149.5 L331.2,153.3 L331.7,155.0 L332.3,155.5 L332.8,155.2 L333.3,155.0 L333.8,154.7 L334.3,154.4 L334.8,154.1 L335.3,153.9 L335.8,153.6 L336.3,153.3 L336.8,153.0 L337.3,152.7 L337.8,152.5 L338.3,152.2 L338.8,151.9 L339.3,151.6 L339.8,151.3 L340.3,151.0 L340.8,150.7 L341.3,150.3 L341.8,150.0 L342.3,149.6 L342.8,149.3 L343.3,148.9 L343.8,148.5 L344.3,148.0 L344.8,147.6 L345.3,147.1 L345.8,146.6 L346.3,146.0 L346.8,145.5 L347.3,144.8 L347.8,144.2 L348.3,143.5 L348.8,142.7 L349.3,141.9 L349.8,141.0 L350.3,140.1 L350.8,139.1 L351.2,138.0 L351.4,34.0 L351.6,141.5 L351.8,149.5 L352.2,153.3 L352.7,155.0 L353.3,155.5 L353.8,155.2 L354.3,154.9 L354.8,154.6 L355.3,154.3 L355.8,154.0 L356.3,153.7 L356.8,153.4 L357.3,153.1 L357.8,152.8 L358.3,152.5 L358.9,152.2 L359.4,151.8 L359.9,151.5 L360.4,151.1 L360.9,150.8 L361.4,150.4 L361.9,150.0 L362.4,149.6 L362.9,149.1 L363.4,148.6 L363.9,148.1 L364.4,147.5 L364.9,146.9 L365.4,146.2 L365.9,145.4 L366.4,144.6 L366.9,143.8 L367.4,142.8 L367.9,141.8 L368.4,140.6 L368.9,139.4 L369.5,138.0 L369.6,34.0 L369.8,141.5 L370.1,149.5 L370.4,153.3 L370.9,155.0 L371.5,155.5 L372.0,155.2 L372.5,154.9 L373.0,154.7 L373.5,154.4 L374.0,154.1 L374.5,153.8 L375.0,153.5 L375.5,153.3 L376.0,153.0 L376.5,152.7 L377.0,152.4 L377.4,152.1 L377.9,151.8 L378.4,151.5 L378.9,151.2 L379.4,150.8 L379.9,150.5 L380.4,150.1 L380.9,149.8 L381.4,149.4 L381.9,149.0 L382.4,148.5 L382.9,148.1 L383.4,147.6 L383.9,147.1 L384.4,146.5 L384.9,145.9 L385.4,145.3 L385.9,144.6 L386.4,143.8 L386.9,143.0 L387.4,142.2 L387.9,141.3 L388.4,140.2 L388.9,139.2 L389.4,138.0 L389.5,34.0 L389.7,141.5 L389.9,149.5 L390.3,153.3 L390.8,155.0 L391.4,155.5 L394.0,155.2 L400.0,154.3 L408.0,152.6 L416.0,150.0 L424.0,146.5 L431.0,142.0 L435.5,138.0 L437.2,135.5 L437.5,34.0 L437.8,128.0 L438.2,135.0 L439.0,137.3 L441.0,138.0 L448.0,139.0 L455.0,140.0 L461.7,140.8 L462.7,146.2 L463.5,150.6 L464.4,154.4 L465.2,157.5 L466.0,160.1 L466.8,162.2 L467.6,164.0 L468.5,165.5 L469.3,166.8 L470.1,167.8 L470.9,168.7 L471.7,169.4 L472.6,170.0 L473.4,170.5 L474.2,170.9 L475.0,171.3 L475.8,171.5 L476.7,171.8 L477.5,172.0 L478.3,172.2 L479.1,172.3 L479.9,172.4 L480.8,172.5 L481.6,172.6 L482.4,172.7 L483.2,172.7 L484.0,172.8 L484.9,172.8 L485.7,172.8 L486.5,172.9 L487.3,172.9 L488.1,172.9 L489.0,172.9 L489.8,172.9 L490.6,172.9 L491.4,173.0 L492.2,173.0 L493.1,173.0 L493.9,173.0 L494.7,173.0" fill="none" stroke="#a9a9a9" stroke-width="1.05" stroke-linejoin="round"/>
<path d="M296.5,173.0 L316.7,173.0 L317.7,171.7 L318.7,170.6 L319.7,169.6 L320.7,168.8 L321.7,168.1 L322.7,167.6 L323.7,167.1 L324.7,166.7 L325.7,166.3 L326.7,166.0 L327.7,165.8 L328.7,165.6 L329.7,165.4 L330.7,165.2 L331.7,165.1 L332.7,165.0 L333.7,164.9 L334.7,164.8 L335.7,164.8 L336.7,164.7 L337.7,164.7 L338.7,164.6 L339.7,164.6 L340.7,164.6 L341.7,164.5 L342.7,164.5 L343.7,164.5 L344.7,164.5 L345.7,164.5 L346.7,164.5 L347.7,164.4 L348.7,164.4 L349.7,164.4 L350.7,164.4 L351.7,164.4 L352.7,164.4 L353.8,164.4 L354.8,164.4 L355.8,164.4 L356.8,164.4 L357.8,164.4 L358.8,164.4 L359.8,164.4 L360.8,164.4 L361.8,164.4 L362.8,164.4 L363.8,164.4 L364.8,164.4 L365.8,164.4 L366.8,164.4 L367.8,164.4 L368.8,164.4 L369.8,164.4 L370.8,164.4 L371.8,164.4 L372.8,164.4 L373.8,164.4 L374.8,164.4 L375.8,164.4 L376.8,164.4 L377.8,164.4 L378.8,164.4 L379.8,164.4 L380.8,164.4 L381.8,164.4 L382.8,164.4 L383.8,164.4 L384.8,164.4 L385.8,164.4 L386.8,164.4 L387.8,164.4 L388.8,164.4 L389.8,164.4 L390.8,164.4 L391.8,164.4 L392.8,164.4 L393.8,164.4 L394.8,164.4 L395.8,164.4 L396.8,164.4 L397.8,164.4 L398.8,164.4 L399.8,164.4 L400.8,164.4 L401.8,164.4 L402.8,164.4 L403.8,164.4 L404.8,164.4 L405.8,164.4 L406.8,164.4 L407.8,164.4 L408.8,164.4 L409.8,164.4 L410.8,164.4 L411.8,164.4 L412.8,164.4 L413.8,164.4 L414.8,164.4 L415.8,164.4 L416.8,164.4 L417.8,164.4 L418.8,164.4 L419.8,164.4 L420.8,164.4 L421.8,164.4 L422.8,164.4 L423.8,164.4 L424.8,164.4 L425.9,164.4 L426.9,164.4 L427.9,164.4 L428.9,164.4 L429.9,164.4 L430.9,164.4 L431.9,164.4 L432.9,164.4 L433.9,164.4 L434.9,164.4 L435.9,164.4 L436.9,164.4 L437.9,164.4 L438.9,164.4 L439.9,164.4 L440.9,164.4 L441.9,164.4 L442.9,164.4 L443.9,164.4 L444.9,164.4 L445.9,164.4 L446.9,164.4 L447.9,164.4 L448.9,164.4 L449.9,164.4 L450.9,164.4 L451.9,164.4 L452.9,164.4 L453.9,164.4 L454.9,164.4 L455.9,164.4 L456.9,164.4 L457.9,164.4 L458.9,164.4 L459.9,164.4 L460.9,164.4 L461.9,164.4 L462.6,165.6 L463.2,166.6 L463.9,167.5 L464.6,168.3 L465.2,168.9 L465.9,169.5 L466.6,170.0 L467.3,170.4 L467.9,170.7 L468.6,171.1 L469.3,171.3 L469.9,171.6 L470.6,171.8 L471.3,171.9 L471.9,172.1 L472.6,172.2 L473.3,172.3 L473.9,172.4 L474.6,172.5 L475.3,172.6 L476.0,172.6 L476.6,172.7 L477.3,172.7 L478.0,172.8 L478.6,172.8 L479.3,172.8 L480.0,172.8 L480.6,172.9 L481.3,172.9 L482.0,172.9 L482.7,172.9 L483.3,172.9 L484.0,172.9 L484.7,172.9 L485.3,173.0 L486.0,173.0 L486.7,173.0 L487.3,173.0 L488.0,173.0 L488.7,173.0 L489.3,173.0 L490.0,173.0 L490.7,173.0 L491.4,173.0 L492.0,173.0 L492.7,173.0 L493.4,173.0 L494.0,173.0 L494.7,173.0" fill="none" stroke="#a9a9a9" stroke-width="1.05"/>
<path d="M296.5,173.0 L316.7,173.0 L317.7,171.4 L318.7,170.1 L319.7,169.0 L320.7,168.0 L321.7,167.2 L322.7,166.5 L323.7,166.0 L324.7,165.5 L325.7,165.1 L326.7,164.7 L327.7,164.4 L328.7,164.2 L329.7,164.0 L330.7,163.8 L331.7,163.6 L332.7,163.5 L333.7,163.4 L334.7,163.3 L335.7,163.2 L336.7,163.2 L337.7,163.1 L338.7,163.1 L339.7,163.0 L340.7,163.0 L341.7,163.0 L342.7,162.9 L343.7,162.9 L344.7,162.9 L345.7,162.9 L346.7,162.9 L347.7,162.9 L348.7,162.8 L349.7,162.8 L350.7,162.8 L351.7,162.8 L352.7,162.8 L353.8,162.8 L354.8,162.8 L355.8,162.8 L356.8,162.8 L357.8,162.8 L358.8,162.8 L359.8,162.8 L360.8,162.8 L361.8,162.8 L362.8,162.8 L363.8,162.8 L364.8,162.8 L365.8,162.8 L366.8,162.8 L367.8,162.8 L368.8,162.8 L369.8,162.8 L370.8,162.8 L371.8,162.8 L372.8,162.8 L373.8,162.8 L374.8,162.8 L375.8,162.8 L376.8,162.8 L377.8,162.8 L378.8,162.8 L379.8,162.8 L380.8,162.8 L381.8,162.8 L382.8,162.8 L383.8,162.8 L384.8,162.8 L385.8,162.8 L386.8,162.8 L387.8,162.8 L388.8,162.8 L389.8,162.8 L390.8,162.8 L391.8,162.8 L392.8,162.8 L393.8,162.8 L394.8,162.8 L395.8,162.8 L396.8,162.8 L397.8,162.8 L398.8,162.8 L399.8,162.8 L400.8,162.8 L401.8,162.8 L402.8,162.8 L403.8,162.8 L404.8,162.8 L405.8,162.8 L406.8,162.8 L407.8,162.8 L408.8,162.8 L409.8,162.8 L410.8,162.8 L411.8,162.8 L412.8,162.8 L413.8,162.8 L414.8,162.8 L415.8,162.8 L416.8,162.8 L417.8,162.8 L418.8,162.8 L419.8,162.8 L420.8,162.8 L421.8,162.8 L422.8,162.8 L423.8,162.8 L424.8,162.8 L425.9,162.8 L426.9,162.8 L427.9,162.8 L428.9,162.8 L429.9,162.8 L430.9,162.8 L431.9,162.8 L432.9,162.8 L433.9,162.8 L434.9,162.8 L435.9,162.8 L436.9,162.8 L437.9,162.8 L438.9,162.8 L439.9,162.8 L440.9,162.8 L441.9,162.8 L442.9,162.8 L443.9,162.8 L444.9,162.8 L445.9,162.8 L446.9,162.8 L447.9,162.8 L448.9,162.8 L449.9,162.8 L450.9,162.8 L451.9,162.8 L452.9,162.8 L453.9,162.8 L454.9,162.8 L455.9,162.8 L456.9,162.8 L457.9,162.8 L458.9,162.8 L459.9,162.8 L460.9,162.8 L461.9,162.8 L462.6,164.2 L463.2,165.4 L463.9,166.5 L464.6,167.4 L465.2,168.2 L465.9,168.8 L466.6,169.4 L467.3,169.9 L467.9,170.3 L468.6,170.7 L469.3,171.0 L469.9,171.3 L470.6,171.5 L471.3,171.7 L471.9,171.9 L472.6,172.1 L473.3,172.2 L473.9,172.3 L474.6,172.4 L475.3,172.5 L476.0,172.6 L476.6,172.6 L477.3,172.7 L478.0,172.7 L478.6,172.8 L479.3,172.8 L480.0,172.8 L480.6,172.8 L481.3,172.9 L482.0,172.9 L482.7,172.9 L483.3,172.9 L484.0,172.9 L484.7,172.9 L485.3,172.9 L486.0,173.0 L486.7,173.0 L487.3,173.0 L488.0,173.0 L488.7,173.0 L489.3,173.0 L490.0,173.0 L490.7,173.0 L491.4,173.0 L492.0,173.0 L492.7,173.0 L493.4,173.0 L494.0,173.0 L494.7,173.0" fill="none" stroke="#a9a9a9" stroke-width="1.05"/>
<path d="M296.5,173.6 H316.7" stroke="#b0b0b0" stroke-width="2.2"/>
<path d="M473.9,173.6 H494.7" stroke="#b0b0b0" stroke-width="2"/>
<path d="M296.5,173.0 C299.8,173.0 312.9,173.5 316.5,173.0 C320.1,172.5 317.4,171.0 318.0,170.0 C318.6,169.0 319.2,167.8 320.0,166.8 C320.8,165.8 321.7,164.8 322.5,164.0 C323.3,163.2 323.8,162.7 325.0,161.9 C326.2,161.1 328.3,160.1 330.0,159.3 C331.7,158.5 333.3,157.9 335.0,157.3 C336.7,156.7 338.6,156.1 340.0,155.6 C341.4,155.1 342.7,154.7 343.5,154.3 C344.3,153.9 344.8,153.2 345.0,153.0 L345.5,34.3 L346.1,157.2 C346.3,157.1 346.9,157.2 347.5,156.8 C348.1,156.4 348.8,155.3 349.5,154.8 C350.2,154.3 350.9,153.8 351.7,153.8 C352.4,153.8 352.9,154.2 354.0,154.6 C355.1,155.0 356.3,155.6 358.0,156.0 C359.7,156.4 361.8,157.0 364.0,157.3 C366.2,157.7 367.5,157.9 371.0,158.1 C374.5,158.3 380.2,158.4 385.0,158.5 C389.8,158.6 394.2,158.7 400.0,158.6 C405.8,158.5 413.3,158.3 420.0,158.2 C426.7,158.1 433.1,158.1 440.0,158.0 C446.9,157.9 457.8,157.2 461.6,157.9 C465.4,158.6 462.4,160.7 463.0,162.0 C463.6,163.3 464.2,164.8 465.0,166.0 C465.8,167.2 466.8,168.4 468.0,169.3 C469.2,170.2 470.5,170.9 472.0,171.5 C473.5,172.1 475.0,172.3 477.0,172.6 C479.0,172.8 481.1,172.9 484.0,173.0 C486.9,173.1 492.9,173.0 494.7,173.0" fill="none" stroke="#111" stroke-width="1.25" stroke-linejoin="round"/>
<path d="M550.0,174.0 L570.6,174.0 L571.1,169.9 L571.6,166.3 L572.1,163.1 L572.6,160.1 L573.1,156.7 L573.6,151.6 L574.1,142.5 L574.6,125.0 L574.7,66.0 L574.9,136.0 L575.2,144.0 L575.5,147.8 L576.0,149.5 L576.6,150.0 L577.1,149.2 L577.6,148.4 L578.1,147.4 L578.6,146.0 L579.1,143.6 L579.6,139.6 L580.1,133.0 L580.3,69.0 L580.5,136.0 L580.8,144.0 L581.1,147.8 L581.6,149.5 L582.2,150.0 L582.7,149.5 L583.2,148.9 L583.7,148.3 L584.2,147.7 L584.7,147.0 L585.2,146.0 L585.7,144.7 L586.2,143.0 L586.7,140.6 L587.2,137.4 L587.8,133.0 L587.9,67.0 L588.1,136.0 L588.4,144.0 L588.7,147.8 L589.2,149.5 L589.8,150.0 L590.3,149.6 L590.8,149.1 L591.3,148.7 L591.8,148.2 L592.3,147.7 L592.8,147.2 L593.3,146.6 L593.8,145.9 L594.3,145.0 L594.8,143.9 L595.3,142.6 L595.8,140.9 L596.3,138.8 L596.8,136.2 L597.4,133.0 L597.5,65.0 L597.7,136.0 L598.0,144.0 L598.3,147.8 L598.8,149.5 L599.4,150.0 L599.9,149.7 L600.4,149.4 L600.9,149.1 L601.4,148.7 L601.9,148.4 L602.4,148.1 L602.9,147.8 L603.4,147.4 L603.8,147.1 L604.3,146.7 L604.8,146.3 L605.3,145.9 L605.8,145.5 L606.3,145.0 L606.8,144.5 L607.3,143.9 L607.8,143.3 L608.3,142.6 L608.8,141.8 L609.3,141.0 L609.8,140.0 L610.3,138.9 L610.8,137.7 L611.3,136.3 L611.8,134.7 L612.2,133.0 L612.4,65.0 L612.6,136.0 L612.9,144.0 L613.2,147.8 L613.7,149.5 L614.3,150.0 L614.8,149.7 L615.3,149.4 L615.8,149.1 L616.3,148.8 L616.8,148.5 L617.4,148.2 L617.9,147.9 L618.4,147.5 L618.9,147.2 L619.4,146.9 L619.9,146.6 L620.4,146.2 L620.9,145.8 L621.4,145.4 L621.9,145.0 L622.4,144.6 L622.9,144.1 L623.5,143.6 L624.0,143.0 L624.5,142.4 L625.0,141.7 L625.5,141.0 L626.0,140.1 L626.5,139.2 L627.0,138.2 L627.5,137.1 L628.0,135.9 L628.5,134.5 L629.1,133.0 L629.2,66.0 L629.4,136.0 L629.7,144.0 L630.0,147.8 L630.5,149.5 L631.1,150.0 L631.6,149.8 L632.1,149.5 L632.6,149.3 L633.1,149.0 L633.6,148.8 L634.1,148.5 L634.6,148.3 L635.1,148.1 L635.6,147.8 L636.1,147.6 L636.6,147.3 L637.1,147.1 L637.6,146.8 L638.1,146.6 L638.6,146.3 L639.1,146.0 L639.6,145.8 L640.1,145.5 L640.6,145.2 L641.1,144.9 L641.6,144.6 L642.1,144.3 L642.6,144.0 L643.1,143.6 L643.6,143.3 L644.1,142.9 L644.6,142.5 L645.1,142.1 L645.6,141.7 L646.1,141.2 L646.6,140.7 L647.1,140.2 L647.6,139.7 L648.1,139.1 L648.6,138.5 L649.1,137.9 L649.6,137.2 L650.1,136.4 L650.6,135.7 L651.1,134.8 L651.6,133.9 L652.1,133.0 L652.2,65.0 L652.4,136.0 L652.7,144.0 L653.0,147.8 L653.5,149.5 L654.1,150.0 L654.6,149.8 L655.1,149.6 L655.6,149.3 L656.1,149.1 L656.6,148.9 L657.1,148.7 L657.6,148.5 L658.1,148.3 L658.6,148.0 L659.1,147.8 L659.6,147.6 L660.1,147.4 L660.6,147.2 L661.1,146.9 L661.6,146.7 L662.0,146.5 L662.5,146.2 L663.0,146.0 L663.5,145.8 L664.0,145.5 L664.5,145.3 L665.0,145.0 L665.5,144.7 L666.0,144.5 L666.5,144.2 L667.0,143.9 L667.5,143.6 L668.0,143.3 L668.5,142.9 L669.0,142.6 L669.5,142.2 L670.0,141.8 L670.5,141.5 L671.0,141.0 L671.5,140.6 L672.0,140.1 L672.5,139.7 L673.0,139.1 L673.5,138.6 L674.0,138.0 L674.5,137.4 L675.0,136.8 L675.5,136.1 L676.0,135.4 L676.5,134.6 L677.0,133.8 L677.5,133.0 L677.6,65.0 L677.8,136.0 L678.1,144.0 L678.4,147.8 L678.9,149.5 L679.5,150.0 L680.0,149.8 L680.5,149.6 L681.0,149.5 L681.5,149.3 L682.0,149.1 L682.5,148.9 L683.0,148.7 L683.5,148.5 L684.0,148.4 L684.5,148.2 L685.0,148.0 L685.5,147.8 L686.0,147.6 L686.5,147.4 L687.0,147.2 L687.5,147.1 L688.0,146.9 L688.5,146.7 L689.0,146.5 L689.5,146.3 L690.0,146.1 L690.5,145.9 L691.0,145.7 L691.5,145.5 L692.0,145.3 L692.5,145.0 L693.0,144.8 L693.5,144.6 L694.0,144.4 L694.5,144.1 L695.0,143.9 L695.5,143.6 L696.0,143.4 L696.5,143.1 L697.0,142.8 L697.5,142.5 L698.0,142.2 L698.5,141.9 L699.0,141.6 L699.5,141.2 L700.0,140.9 L700.5,140.5 L701.0,140.1 L701.5,139.7 L702.0,139.3 L702.5,138.8 L703.0,138.3 L703.5,137.9 L704.0,137.3 L704.5,136.8 L705.0,136.2 L705.5,135.7 L706.0,135.0 L706.5,134.4 L707.0,133.7 L707.6,133.0 L707.7,65.0 L707.9,136.0 L708.2,144.0 L708.5,147.8 L709.0,149.5 L709.6,150.0 L710.8,147.5 L712.0,146.1 L713.1,144.9 L714.3,144.0 L715.5,143.0 L716.2,147.3 L716.9,151.1 L717.5,154.3 L718.2,157.0 L718.9,159.4 L719.6,161.4 L720.2,163.2 L720.9,164.7 L721.6,166.0 L722.3,167.1 L722.9,168.1 L723.6,168.9 L724.3,169.6 L725.0,170.2 L725.7,170.8 L726.3,171.2 L727.0,171.6 L727.7,171.9 L728.4,172.2 L729.0,172.5 L729.7,172.7 L730.4,172.9 L731.1,173.0 L731.8,173.2 L732.4,173.3 L733.1,173.4 L733.8,173.5 L734.5,173.5 L735.1,173.6 L735.8,173.7 L736.5,173.7 L737.2,173.7 L737.8,173.8 L738.5,173.8 L739.2,173.8 L739.9,173.9 L740.6,173.9 L741.2,173.9 L741.9,173.9 L742.6,173.9 L743.3,173.9 L743.9,173.9 L744.6,174.0 L745.3,174.0 L746.0,174.0 L746.6,174.0 L747.3,174.0 L748.0,174.0" fill="none" stroke="#a9a9a9" stroke-width="1.05" stroke-linejoin="round"/>
<path d="M550.0,174.0 L570.6,174.0 L571.1,170.0 L571.6,166.5 L572.1,163.4 L572.6,160.7 L573.1,158.2 L573.6,155.9 L574.1,153.6 L574.6,151.1 L575.1,147.8 L575.6,143.2 L576.1,136.4 L576.6,126.0 L576.7,69.0 L576.9,137.0 L577.2,145.0 L577.5,148.8 L578.0,150.5 L578.6,151.0 L579.1,150.5 L579.6,149.9 L580.1,149.3 L580.6,148.7 L581.1,148.0 L581.6,147.0 L582.1,145.7 L582.6,144.0 L583.1,141.6 L583.6,138.4 L584.1,134.0 L584.3,65.0 L584.5,137.0 L584.8,145.0 L585.1,148.8 L585.6,150.5 L586.2,151.0 L586.7,150.7 L587.2,150.4 L587.7,150.0 L588.2,149.7 L588.7,149.4 L589.2,149.1 L589.7,148.8 L590.2,148.4 L590.7,148.1 L591.2,147.7 L591.7,147.3 L592.2,146.9 L592.7,146.5 L593.2,146.0 L593.7,145.5 L594.2,144.9 L594.7,144.3 L595.2,143.6 L595.7,142.8 L596.2,142.0 L596.7,141.0 L597.2,139.9 L597.7,138.7 L598.2,137.3 L598.7,135.7 L599.1,134.0 L599.3,66.0 L599.5,137.0 L599.8,145.0 L600.1,148.8 L600.6,150.5 L601.2,151.0 L601.7,150.7 L602.2,150.4 L602.7,150.2 L603.2,149.9 L603.7,149.6 L604.2,149.3 L604.7,149.0 L605.2,148.7 L605.7,148.4 L606.2,148.1 L606.7,147.8 L607.2,147.5 L607.7,147.2 L608.2,146.9 L608.7,146.5 L609.2,146.2 L609.7,145.8 L610.2,145.4 L610.7,145.0 L611.2,144.5 L611.7,144.1 L612.2,143.5 L612.7,143.0 L613.2,142.4 L613.7,141.7 L614.2,141.0 L614.7,140.3 L615.2,139.4 L615.7,138.5 L616.2,137.5 L616.7,136.4 L617.2,135.3 L617.6,134.0 L617.8,66.0 L618.0,137.0 L618.2,145.0 L618.6,148.8 L619.1,150.5 L619.7,151.0 L620.2,150.8 L620.7,150.6 L621.2,150.4 L621.7,150.2 L622.2,150.0 L622.7,149.8 L623.2,149.5 L623.7,149.3 L624.2,149.1 L624.7,148.9 L625.2,148.7 L625.7,148.5 L626.2,148.3 L626.7,148.1 L627.2,147.8 L627.7,147.6 L628.2,147.4 L628.7,147.2 L629.2,146.9 L629.7,146.7 L630.2,146.5 L630.7,146.2 L631.2,146.0 L631.7,145.7 L632.2,145.5 L632.7,145.2 L633.2,144.9 L633.7,144.6 L634.2,144.3 L634.7,144.0 L635.2,143.7 L635.7,143.3 L636.2,143.0 L636.7,142.6 L637.2,142.2 L637.7,141.8 L638.2,141.4 L638.7,140.9 L639.2,140.4 L639.7,139.9 L640.2,139.4 L640.7,138.9 L641.2,138.3 L641.7,137.7 L642.2,137.0 L642.7,136.3 L643.2,135.6 L643.7,134.8 L644.2,134.0 L644.4,66.0 L644.6,137.0 L644.9,145.0 L645.2,148.8 L645.7,150.5 L646.3,151.0 L646.8,150.8 L647.3,150.6 L647.8,150.4 L648.3,150.2 L648.8,150.0 L649.3,149.8 L649.8,149.6 L650.3,149.4 L650.8,149.2 L651.3,149.0 L651.8,148.8 L652.3,148.6 L652.8,148.4 L653.3,148.2 L653.8,148.0 L654.3,147.8 L654.8,147.6 L655.3,147.4 L655.8,147.2 L656.3,147.0 L656.8,146.8 L657.3,146.5 L657.8,146.3 L658.3,146.1 L658.8,145.8 L659.3,145.6 L659.8,145.3 L660.3,145.1 L660.8,144.8 L661.3,144.5 L661.8,144.3 L662.3,144.0 L662.8,143.6 L663.3,143.3 L663.8,143.0 L664.3,142.6 L664.8,142.3 L665.3,141.9 L665.8,141.5 L666.3,141.1 L666.8,140.6 L667.3,140.2 L667.8,139.7 L668.3,139.2 L668.8,138.6 L669.3,138.1 L669.8,137.5 L670.3,136.8 L670.8,136.2 L671.3,135.5 L671.8,134.8 L672.4,134.0 L672.5,66.0 L672.7,137.0 L673.0,145.0 L673.3,148.8 L673.8,150.5 L674.4,151.0 L674.9,150.8 L675.4,150.7 L675.9,150.5 L676.4,150.3 L676.9,150.2 L677.4,150.0 L677.9,149.8 L678.4,149.7 L678.9,149.5 L679.4,149.3 L679.9,149.2 L680.4,149.0 L680.9,148.8 L681.4,148.6 L681.9,148.5 L682.4,148.3 L682.9,148.1 L683.4,148.0 L683.9,147.8 L684.4,147.6 L684.8,147.4 L685.3,147.3 L685.8,147.1 L686.3,146.9 L686.8,146.7 L687.3,146.5 L687.8,146.3 L688.3,146.1 L688.8,145.9 L689.3,145.7 L689.8,145.5 L690.3,145.3 L690.8,145.1 L691.3,144.8 L691.8,144.6 L692.3,144.3 L692.8,144.1 L693.3,143.8 L693.8,143.6 L694.3,143.3 L694.8,143.0 L695.3,142.7 L695.8,142.4 L696.3,142.1 L696.8,141.7 L697.3,141.4 L697.8,141.0 L698.3,140.7 L698.8,140.3 L699.3,139.9 L699.8,139.4 L700.3,139.0 L700.8,138.5 L701.3,138.0 L701.8,137.5 L702.3,137.0 L702.8,136.5 L703.3,135.9 L703.8,135.3 L704.3,134.7 L704.8,134.0 L704.9,66.0 L705.1,137.0 L705.4,145.0 L705.7,148.8 L706.2,150.5 L706.8,151.0 L707.9,149.3 L709.0,148.1 L710.1,147.2 L711.1,146.5 L712.2,145.8 L713.3,145.2 L714.4,144.6 L715.5,144.0 L716.2,148.2 L716.9,151.8 L717.5,154.9 L718.2,157.6 L718.9,159.9 L719.6,161.8 L720.2,163.5 L720.9,165.0 L721.6,166.3 L722.3,167.3 L722.9,168.3 L723.6,169.1 L724.3,169.8 L725.0,170.4 L725.7,170.9 L726.3,171.3 L727.0,171.7 L727.7,172.0 L728.4,172.3 L729.0,172.5 L729.7,172.7 L730.4,172.9 L731.1,173.1 L731.8,173.2 L732.4,173.3 L733.1,173.4 L733.8,173.5 L734.5,173.6 L735.1,173.6 L735.8,173.7 L736.5,173.7 L737.2,173.8 L737.8,173.8 L738.5,173.8 L739.2,173.8 L739.9,173.9 L740.6,173.9 L741.2,173.9 L741.9,173.9 L742.6,173.9 L743.3,173.9 L743.9,173.9 L744.6,174.0 L745.3,174.0 L746.0,174.0 L746.6,174.0 L747.3,174.0 L748.0,174.0" fill="none" stroke="#a9a9a9" stroke-width="1.05" stroke-linejoin="round"/>
<path d="M550.0,174.0 L570.6,174.0 L571.1,170.0 L571.6,166.5 L572.1,163.4 L572.7,160.7 L573.2,158.3 L573.7,156.2 L574.2,154.2 L574.7,152.4 L575.2,150.6 L575.8,148.7 L576.3,146.5 L576.8,143.6 L577.3,139.8 L577.8,134.4 L578.4,127.0 L578.5,69.5 L578.7,138.0 L579.0,146.0 L579.3,149.8 L579.8,151.5 L580.4,152.0 L580.9,151.7 L581.4,151.3 L581.9,151.0 L582.4,150.6 L582.9,150.3 L583.4,149.9 L583.9,149.5 L584.3,149.1 L584.8,148.7 L585.3,148.3 L585.8,147.8 L586.3,147.2 L586.8,146.6 L587.3,145.9 L587.8,145.1 L588.3,144.2 L588.8,143.2 L589.3,142.0 L589.8,140.6 L590.3,139.0 L590.8,137.1 L591.2,135.0 L591.4,68.0 L591.6,138.0 L591.9,146.0 L592.2,149.8 L592.7,151.5 L593.3,152.0 L593.8,151.7 L594.3,151.4 L594.8,151.0 L595.3,150.7 L595.8,150.4 L596.3,150.0 L596.8,149.7 L597.3,149.4 L597.8,149.0 L598.3,148.6 L598.8,148.2 L599.3,147.8 L599.8,147.3 L600.3,146.8 L600.8,146.2 L601.3,145.6 L601.8,144.9 L602.3,144.1 L602.8,143.3 L603.3,142.3 L603.8,141.1 L604.3,139.9 L604.8,138.4 L605.3,136.8 L605.8,135.0 L605.9,67.0 L606.1,138.0 L606.4,146.0 L606.7,149.8 L607.2,151.5 L607.8,152.0 L608.3,151.7 L608.8,151.5 L609.3,151.2 L609.8,151.0 L610.3,150.7 L610.8,150.4 L611.3,150.2 L611.8,149.9 L612.3,149.6 L612.8,149.4 L613.3,149.1 L613.8,148.8 L614.3,148.6 L614.8,148.3 L615.3,148.0 L615.8,147.7 L616.3,147.4 L616.8,147.1 L617.3,146.8 L617.8,146.4 L618.3,146.1 L618.8,145.7 L619.3,145.4 L619.8,145.0 L620.3,144.5 L620.8,144.1 L621.3,143.6 L621.8,143.1 L622.3,142.6 L622.8,142.1 L623.3,141.5 L623.8,140.8 L624.3,140.2 L624.8,139.4 L625.3,138.7 L625.8,137.8 L626.3,137.0 L626.8,136.0 L627.2,135.0 L627.4,66.0 L627.6,138.0 L627.9,146.0 L628.2,149.8 L628.7,151.5 L629.3,152.0 L629.8,151.8 L630.3,151.6 L630.8,151.4 L631.3,151.2 L631.8,151.1 L632.3,150.9 L632.8,150.7 L633.3,150.5 L633.8,150.3 L634.3,150.1 L634.8,149.9 L635.3,149.7 L635.8,149.5 L636.3,149.3 L636.8,149.1 L637.3,148.9 L637.8,148.8 L638.3,148.6 L638.8,148.3 L639.3,148.1 L639.8,147.9 L640.3,147.7 L640.8,147.5 L641.3,147.3 L641.8,147.1 L642.3,146.8 L642.8,146.6 L643.3,146.4 L643.8,146.1 L644.3,145.9 L644.8,145.6 L645.3,145.3 L645.8,145.0 L646.3,144.7 L646.8,144.4 L647.3,144.1 L647.8,143.8 L648.3,143.4 L648.8,143.1 L649.3,142.7 L649.8,142.3 L650.3,141.9 L650.8,141.4 L651.3,141.0 L651.8,140.5 L652.3,140.0 L652.8,139.5 L653.3,138.9 L653.8,138.4 L654.3,137.7 L654.8,137.1 L655.3,136.4 L655.8,135.7 L656.4,135.0 L656.5,68.0 L656.7,138.0 L657.0,146.0 L657.3,149.8 L657.8,151.5 L658.4,152.0 L658.9,151.9 L659.4,151.7 L659.9,151.6 L660.4,151.4 L660.9,151.3 L661.4,151.1 L661.9,151.0 L662.4,150.9 L662.9,150.7 L663.4,150.6 L663.9,150.4 L664.4,150.3 L664.9,150.1 L665.4,150.0 L666.0,149.8 L666.5,149.7 L667.0,149.5 L667.5,149.4 L668.0,149.3 L668.5,149.1 L669.0,149.0 L669.5,148.8 L670.0,148.7 L670.5,148.5 L671.0,148.3 L671.5,148.2 L672.0,148.0 L672.5,147.9 L673.0,147.7 L673.5,147.5 L674.0,147.4 L674.5,147.2 L675.0,147.0 L675.5,146.9 L676.0,146.7 L676.5,146.5 L677.0,146.3 L677.5,146.1 L678.0,145.9 L678.5,145.7 L679.0,145.5 L679.5,145.3 L680.1,145.1 L680.6,144.9 L681.1,144.7 L681.6,144.4 L682.1,144.2 L682.6,143.9 L683.1,143.7 L683.6,143.4 L684.1,143.1 L684.6,142.9 L685.1,142.6 L685.6,142.3 L686.1,141.9 L686.6,141.6 L687.1,141.3 L687.6,140.9 L688.1,140.6 L688.6,140.2 L689.1,139.8 L689.6,139.4 L690.1,139.0 L690.6,138.5 L691.1,138.1 L691.6,137.6 L692.1,137.1 L692.6,136.6 L693.1,136.1 L693.6,135.6 L694.1,135.0 L694.3,66.0 L694.5,138.0 L694.8,146.0 L695.1,149.8 L695.6,151.5 L696.2,152.0 L697.2,151.3 L698.2,150.7 L699.2,150.2 L700.3,149.8 L701.3,149.4 L702.3,149.1 L703.3,148.8 L704.3,148.5 L705.3,148.2 L706.4,148.0 L707.4,147.8 L708.4,147.5 L709.4,147.3 L710.4,147.1 L711.4,146.9 L712.5,146.6 L713.5,146.4 L714.5,146.2 L715.5,146.0 L716.2,149.9 L716.9,153.3 L717.5,156.2 L718.2,158.7 L718.9,160.8 L719.6,162.7 L720.2,164.2 L720.9,165.6 L721.6,166.8 L722.3,167.8 L722.9,168.7 L723.6,169.4 L724.3,170.0 L725.0,170.6 L725.7,171.1 L726.3,171.5 L727.0,171.8 L727.7,172.1 L728.4,172.4 L729.0,172.6 L729.7,172.8 L730.4,173.0 L731.1,173.1 L731.8,173.2 L732.4,173.3 L733.1,173.4 L733.8,173.5 L734.5,173.6 L735.1,173.6 L735.8,173.7 L736.5,173.7 L737.2,173.8 L737.8,173.8 L738.5,173.8 L739.2,173.9 L739.9,173.9 L740.6,173.9 L741.2,173.9 L741.9,173.9 L742.6,173.9 L743.3,173.9 L743.9,173.9 L744.6,174.0 L745.3,174.0 L746.0,174.0 L746.6,174.0 L747.3,174.0 L748.0,174.0" fill="none" stroke="#a9a9a9" stroke-width="1.05" stroke-linejoin="round"/>
<path d="M550.0,174.0 L570.6,174.0 L571.1,170.2 L571.6,166.8 L572.1,163.9 L572.6,161.3 L573.1,159.0 L573.6,156.9 L574.2,155.1 L574.7,153.6 L575.2,152.1 L575.7,150.8 L576.2,149.6 L576.7,148.4 L577.2,147.2 L577.7,145.8 L578.2,144.3 L578.7,142.4 L579.2,140.0 L579.7,137.0 L580.2,133.1 L580.8,128.0 L580.9,69.0 L581.1,139.0 L581.4,147.0 L581.7,150.8 L582.2,152.5 L582.8,153.0 L583.3,152.7 L583.8,152.4 L584.3,152.1 L584.8,151.8 L585.3,151.5 L585.8,151.2 L586.3,151.0 L586.8,150.7 L587.3,150.3 L587.8,150.0 L588.3,149.7 L588.8,149.4 L589.3,149.1 L589.8,148.7 L590.3,148.3 L590.8,147.9 L591.3,147.5 L591.8,147.1 L592.3,146.6 L592.8,146.1 L593.3,145.5 L593.8,144.9 L594.3,144.2 L594.8,143.5 L595.3,142.7 L595.8,141.8 L596.3,140.9 L596.8,139.8 L597.3,138.7 L597.8,137.4 L598.2,136.0 L598.4,66.0 L598.6,139.0 L598.9,147.0 L599.2,150.8 L599.7,152.5 L600.3,153.0 L600.8,152.7 L601.3,152.5 L601.8,152.2 L602.3,151.9 L602.8,151.7 L603.3,151.4 L603.8,151.1 L604.3,150.9 L604.8,150.6 L605.3,150.3 L605.8,150.0 L606.3,149.8 L606.8,149.5 L607.3,149.2 L607.8,148.9 L608.3,148.6 L608.8,148.3 L609.3,148.0 L609.8,147.6 L610.3,147.3 L610.8,146.9 L611.3,146.6 L611.8,146.2 L612.3,145.7 L612.8,145.3 L613.3,144.8 L613.8,144.3 L614.3,143.8 L614.8,143.2 L615.3,142.6 L615.8,142.0 L616.3,141.3 L616.8,140.6 L617.3,139.8 L617.8,138.9 L618.3,138.0 L618.8,137.0 L619.4,136.0 L619.5,66.0 L619.7,139.0 L620.0,147.0 L620.3,150.8 L620.8,152.5 L621.4,153.0 L621.9,152.9 L622.4,152.7 L622.9,152.6 L623.4,152.5 L623.9,152.3 L624.4,152.2 L624.9,152.0 L625.4,151.9 L625.9,151.8 L626.4,151.6 L626.9,151.5 L627.4,151.4 L627.9,151.2 L628.4,151.1 L628.9,151.0 L629.5,150.8 L630.0,150.7 L630.5,150.5 L631.0,150.4 L631.5,150.3 L632.0,150.1 L632.5,150.0 L633.0,149.8 L633.5,149.7 L634.0,149.6 L634.5,149.4 L635.0,149.3 L635.5,149.1 L636.0,149.0 L636.5,148.8 L637.0,148.7 L637.5,148.5 L638.0,148.3 L638.5,148.2 L639.0,148.0 L639.5,147.9 L640.0,147.7 L640.5,147.5 L641.0,147.3 L641.5,147.2 L642.0,147.0 L642.5,146.8 L643.0,146.6 L643.5,146.4 L644.0,146.2 L644.6,146.0 L645.1,145.8 L645.6,145.6 L646.1,145.3 L646.6,145.1 L647.1,144.9 L647.6,144.6 L648.1,144.4 L648.6,144.1 L649.1,143.8 L649.6,143.6 L650.1,143.3 L650.6,143.0 L651.1,142.7 L651.6,142.3 L652.1,142.0 L652.6,141.7 L653.1,141.3 L653.6,141.0 L654.1,140.6 L654.6,140.2 L655.1,139.8 L655.6,139.4 L656.1,138.9 L656.6,138.5 L657.1,138.0 L657.6,137.5 L658.1,137.1 L658.6,136.5 L659.1,136.0 L659.3,68.0 L659.5,139.0 L659.8,147.0 L660.1,150.8 L660.6,152.5 L661.2,153.0 L662.2,152.7 L663.2,152.5 L664.2,152.3 L665.2,152.1 L666.2,151.9 L667.2,151.7 L668.2,151.5 L669.2,151.3 L670.2,151.2 L671.3,151.0 L672.3,150.9 L673.3,150.7 L674.3,150.6 L675.3,150.5 L676.3,150.3 L677.3,150.2 L678.3,150.1 L679.3,150.0 L680.3,149.9 L681.3,149.8 L682.3,149.7 L683.3,149.6 L684.3,149.5 L685.3,149.4 L686.3,149.3 L687.3,149.2 L688.3,149.1 L689.4,149.0 L690.4,148.9 L691.4,148.9 L692.4,148.8 L693.4,148.7 L694.4,148.6 L695.4,148.5 L696.4,148.5 L697.4,148.4 L698.4,148.3 L699.4,148.2 L700.4,148.1 L701.4,148.1 L702.4,148.0 L703.4,147.9 L704.4,147.8 L705.4,147.8 L706.5,147.7 L707.5,147.6 L708.5,147.5 L709.5,147.5 L710.5,147.4 L711.5,147.3 L712.5,147.2 L713.5,147.2 L714.5,147.1 L715.5,147.0 L716.2,150.8 L716.9,154.0 L717.5,156.8 L718.2,159.2 L718.9,161.3 L719.6,163.1 L720.2,164.6 L720.9,165.9 L721.6,167.0 L722.3,168.0 L722.9,168.8 L723.6,169.6 L724.3,170.2 L725.0,170.7 L725.7,171.2 L726.3,171.6 L727.0,171.9 L727.7,172.2 L728.4,172.5 L729.0,172.7 L729.7,172.9 L730.4,173.0 L731.1,173.2 L731.8,173.3 L732.4,173.4 L733.1,173.5 L733.8,173.5 L734.5,173.6 L735.1,173.7 L735.8,173.7 L736.5,173.7 L737.2,173.8 L737.8,173.8 L738.5,173.8 L739.2,173.9 L739.9,173.9 L740.6,173.9 L741.2,173.9 L741.9,173.9 L742.6,173.9 L743.3,173.9 L743.9,174.0 L744.6,174.0 L745.3,174.0 L746.0,174.0 L746.6,174.0 L747.3,174.0 L748.0,174.0" fill="none" stroke="#a9a9a9" stroke-width="1.05" stroke-linejoin="round"/>
<path d="M550.0,174.0 L570.6,174.0 L571.1,170.3 L571.6,167.0 L572.1,164.2 L572.6,161.6 L573.1,159.4 L573.7,157.4 L574.2,155.7 L574.7,154.2 L575.2,152.9 L575.7,151.7 L576.2,150.6 L576.7,149.7 L577.2,148.8 L577.7,148.1 L578.2,147.4 L578.7,146.7 L579.3,146.0 L579.8,145.4 L580.3,144.7 L580.8,143.9 L581.3,143.0 L581.8,141.9 L582.3,140.7 L582.8,139.2 L583.3,137.4 L583.8,135.1 L584.3,132.4 L584.9,129.0 L585.0,66.0 L585.2,139.5 L585.5,147.5 L585.8,151.3 L586.3,153.0 L586.9,153.5 L587.4,153.2 L587.9,153.0 L588.4,152.7 L588.9,152.5 L589.4,152.2 L589.9,152.0 L590.4,151.7 L590.9,151.5 L591.4,151.2 L591.9,150.9 L592.4,150.7 L592.9,150.4 L593.4,150.2 L593.9,149.9 L594.4,149.6 L594.9,149.3 L595.4,149.0 L595.9,148.7 L596.4,148.4 L596.9,148.1 L597.4,147.8 L597.9,147.4 L598.4,147.0 L598.9,146.7 L599.4,146.3 L599.9,145.8 L600.4,145.4 L600.9,144.9 L601.4,144.4 L601.9,143.9 L602.4,143.3 L602.9,142.7 L603.4,142.0 L603.9,141.3 L604.4,140.6 L604.9,139.8 L605.4,138.9 L605.9,138.0 L606.4,137.0 L606.5,67.0 L606.7,139.5 L607.0,147.5 L607.3,151.3 L607.8,153.0 L608.4,153.5 L608.9,153.3 L609.4,153.1 L609.9,152.9 L610.4,152.7 L610.9,152.4 L611.4,152.2 L611.9,152.0 L612.4,151.8 L612.9,151.6 L613.4,151.4 L613.9,151.2 L614.4,151.0 L614.9,150.7 L615.4,150.5 L615.9,150.3 L616.5,150.1 L617.0,149.9 L617.5,149.6 L618.0,149.4 L618.5,149.1 L619.0,148.9 L619.5,148.6 L620.0,148.4 L620.5,148.1 L621.0,147.8 L621.5,147.6 L622.0,147.3 L622.5,147.0 L623.0,146.6 L623.5,146.3 L624.0,146.0 L624.5,145.6 L625.0,145.2 L625.5,144.8 L626.0,144.4 L626.5,143.9 L627.0,143.5 L627.5,143.0 L628.0,142.4 L628.5,141.9 L629.0,141.3 L629.5,140.7 L630.0,140.0 L630.5,139.3 L631.0,138.6 L631.5,137.8 L632.1,137.0 L632.2,66.0 L632.4,139.5 L632.7,147.5 L633.0,151.3 L633.5,153.0 L634.1,153.5 L635.1,153.4 L636.1,153.2 L637.1,153.1 L638.1,153.0 L639.1,152.9 L640.1,152.8 L641.1,152.7 L642.1,152.6 L643.1,152.5 L644.1,152.4 L645.2,152.3 L646.2,152.2 L647.2,152.2 L648.2,152.1 L649.2,152.0 L650.2,151.9 L651.2,151.9 L652.2,151.8 L653.2,151.7 L654.2,151.7 L655.2,151.6 L656.2,151.5 L657.2,151.5 L658.2,151.4 L659.2,151.4 L660.2,151.3 L661.2,151.2 L662.2,151.2 L663.2,151.1 L664.2,151.1 L665.3,151.0 L666.3,151.0 L667.3,150.9 L668.3,150.9 L669.3,150.8 L670.3,150.8 L671.3,150.7 L672.3,150.7 L673.3,150.7 L674.3,150.6 L675.3,150.6 L676.3,150.5 L677.3,150.5 L678.3,150.4 L679.3,150.4 L680.3,150.4 L681.3,150.3 L682.3,150.3 L683.3,150.2 L684.3,150.2 L685.4,150.2 L686.4,150.1 L687.4,150.1 L688.4,150.0 L689.4,150.0 L690.4,150.0 L691.4,149.9 L692.4,149.9 L693.4,149.8 L694.4,149.8 L695.4,149.8 L696.4,149.7 L697.4,149.7 L698.4,149.6 L699.4,149.6 L700.4,149.6 L701.4,149.5 L702.4,149.5 L703.4,149.5 L704.4,149.4 L705.5,149.4 L706.5,149.3 L707.5,149.3 L708.5,149.3 L709.5,149.2 L710.5,149.2 L711.5,149.2 L712.5,149.1 L713.5,149.1 L714.5,149.0 L715.5,149.0 L716.2,152.5 L716.9,155.5 L717.5,158.1 L718.2,160.3 L718.9,162.2 L719.6,163.9 L720.2,165.3 L720.9,166.5 L721.6,167.5 L722.3,168.4 L722.9,169.2 L723.6,169.9 L724.3,170.5 L725.0,171.0 L725.7,171.4 L726.3,171.7 L727.0,172.1 L727.7,172.3 L728.4,172.6 L729.0,172.8 L729.7,172.9 L730.4,173.1 L731.1,173.2 L731.8,173.3 L732.4,173.4 L733.1,173.5 L733.8,173.6 L734.5,173.6 L735.1,173.7 L735.8,173.7 L736.5,173.8 L737.2,173.8 L737.8,173.8 L738.5,173.9 L739.2,173.9 L739.9,173.9 L740.6,173.9 L741.2,173.9 L741.9,173.9 L742.6,173.9 L743.3,173.9 L743.9,174.0 L744.6,174.0 L745.3,174.0 L746.0,174.0 L746.6,174.0 L747.3,174.0 L748.0,174.0" fill="none" stroke="#a9a9a9" stroke-width="1.05" stroke-linejoin="round"/>
<path d="M550.0,174.0 L570.6,174.0 L571.6,173.3 L572.6,172.7 L573.6,172.1 L574.6,171.7 L575.6,171.3 L576.6,170.9 L577.6,170.6 L578.6,170.4 L579.7,170.2 L580.7,170.0 L581.7,169.8 L582.7,169.6 L583.7,169.5 L584.7,169.4 L585.7,169.3 L586.7,169.2 L587.7,169.2 L588.7,169.1 L589.7,169.0 L590.7,169.0 L591.7,169.0 L592.7,168.9 L593.7,168.9 L594.8,168.9 L595.8,168.8 L596.8,168.8 L597.8,168.8 L598.8,168.8 L599.8,168.8 L600.8,168.8 L601.8,168.8 L602.8,168.8 L603.8,168.7 L604.8,168.7 L605.8,168.7 L606.8,168.7 L607.8,168.7 L608.8,168.7 L609.8,168.7 L610.9,168.7 L611.9,168.7 L612.9,168.7 L613.9,168.7 L614.9,168.7 L615.9,168.7 L616.9,168.7 L617.9,168.7 L618.9,168.7 L619.9,168.7 L620.9,168.7 L621.9,168.7 L622.9,168.7 L623.9,168.7 L624.9,168.7 L625.9,168.7 L627.0,168.7 L628.0,168.7 L629.0,168.7 L630.0,168.7 L631.0,168.7 L632.0,168.7 L633.0,168.7 L634.0,168.7 L635.0,168.7 L636.0,168.7 L637.0,168.7 L638.0,168.7 L639.0,168.7 L640.0,168.7 L641.0,168.7 L642.0,168.7 L643.0,168.7 L644.1,168.7 L645.1,168.7 L646.1,168.7 L647.1,168.7 L648.1,168.7 L649.1,168.7 L650.1,168.7 L651.1,168.7 L652.1,168.7 L653.1,168.7 L654.1,168.7 L655.1,168.7 L656.1,168.7 L657.1,168.7 L658.1,168.7 L659.1,168.7 L660.2,168.7 L661.2,168.7 L662.2,168.7 L663.2,168.7 L664.2,168.7 L665.2,168.7 L666.2,168.7 L667.2,168.7 L668.2,168.7 L669.2,168.7 L670.2,168.7 L671.2,168.7 L672.2,168.7 L673.2,168.7 L674.2,168.7 L675.2,168.7 L676.3,168.7 L677.3,168.7 L678.3,168.7 L679.3,168.7 L680.3,168.7 L681.3,168.7 L682.3,168.7 L683.3,168.7 L684.3,168.7 L685.3,168.7 L686.3,168.7 L687.3,168.7 L688.3,168.7 L689.3,168.7 L690.3,168.7 L691.4,168.7 L692.4,168.7 L693.4,168.7 L694.4,168.7 L695.4,168.7 L696.4,168.7 L697.4,168.7 L698.4,168.7 L699.4,168.7 L700.4,168.7 L701.4,168.7 L702.4,168.7 L703.4,168.7 L704.4,168.7 L705.4,168.7 L706.4,168.7 L707.5,168.7 L708.5,168.7 L709.5,168.7 L710.5,168.7 L711.5,168.7 L712.5,168.7 L713.5,168.7 L714.5,168.7 L715.5,168.7 L716.2,169.4 L716.9,170.1 L717.5,170.6 L718.2,171.1 L718.9,171.5 L719.6,171.9 L720.2,172.2 L720.9,172.4 L721.6,172.6 L722.3,172.8 L722.9,173.0 L723.6,173.1 L724.3,173.3 L725.0,173.4 L725.7,173.4 L726.3,173.5 L727.0,173.6 L727.7,173.6 L728.4,173.7 L729.0,173.7 L729.7,173.8 L730.4,173.8 L731.1,173.8 L731.8,173.9 L732.4,173.9 L733.1,173.9 L733.8,173.9 L734.5,173.9 L735.1,173.9 L735.8,173.9 L736.5,174.0 L737.2,174.0 L737.8,174.0 L738.5,174.0 L739.2,174.0 L739.9,174.0 L740.6,174.0 L741.2,174.0 L741.9,174.0 L742.6,174.0 L743.3,174.0 L743.9,174.0 L744.6,174.0 L745.3,174.0 L746.0,174.0 L746.6,174.0 L747.3,174.0 L748.0,174.0" fill="none" stroke="#a9a9a9" stroke-width="1.05"/>
<path d="M550.0,174.0 L570.6,174.0 L571.6,172.7 L572.6,171.7 L573.6,170.7 L574.6,169.9 L575.6,169.2 L576.6,168.6 L577.6,168.0 L578.6,167.6 L579.7,167.2 L580.7,166.8 L581.7,166.5 L582.7,166.3 L583.7,166.1 L584.7,165.9 L585.7,165.7 L586.7,165.5 L587.7,165.4 L588.7,165.3 L589.7,165.2 L590.7,165.1 L591.7,165.1 L592.7,165.0 L593.7,164.9 L594.8,164.9 L595.8,164.9 L596.8,164.8 L597.8,164.8 L598.8,164.8 L599.8,164.7 L600.8,164.7 L601.8,164.7 L602.8,164.7 L603.8,164.7 L604.8,164.7 L605.8,164.7 L606.8,164.7 L607.8,164.6 L608.8,164.6 L609.8,164.6 L610.9,164.6 L611.9,164.6 L612.9,164.6 L613.9,164.6 L614.9,164.6 L615.9,164.6 L616.9,164.6 L617.9,164.6 L618.9,164.6 L619.9,164.6 L620.9,164.6 L621.9,164.6 L622.9,164.6 L623.9,164.6 L624.9,164.6 L625.9,164.6 L627.0,164.6 L628.0,164.6 L629.0,164.6 L630.0,164.6 L631.0,164.6 L632.0,164.6 L633.0,164.6 L634.0,164.6 L635.0,164.6 L636.0,164.6 L637.0,164.6 L638.0,164.6 L639.0,164.6 L640.0,164.6 L641.0,164.6 L642.0,164.6 L643.0,164.6 L644.1,164.6 L645.1,164.6 L646.1,164.6 L647.1,164.6 L648.1,164.6 L649.1,164.6 L650.1,164.6 L651.1,164.6 L652.1,164.6 L653.1,164.6 L654.1,164.6 L655.1,164.6 L656.1,164.6 L657.1,164.6 L658.1,164.6 L659.1,164.6 L660.2,164.6 L661.2,164.6 L662.2,164.6 L663.2,164.6 L664.2,164.6 L665.2,164.6 L666.2,164.6 L667.2,164.6 L668.2,164.6 L669.2,164.6 L670.2,164.6 L671.2,164.6 L672.2,164.6 L673.2,164.6 L674.2,164.6 L675.2,164.6 L676.3,164.6 L677.3,164.6 L678.3,164.6 L679.3,164.6 L680.3,164.6 L681.3,164.6 L682.3,164.6 L683.3,164.6 L684.3,164.6 L685.3,164.6 L686.3,164.6 L687.3,164.6 L688.3,164.6 L689.3,164.6 L690.3,164.6 L691.4,164.6 L692.4,164.6 L693.4,164.6 L694.4,164.6 L695.4,164.6 L696.4,164.6 L697.4,164.6 L698.4,164.6 L699.4,164.6 L700.4,164.6 L701.4,164.6 L702.4,164.6 L703.4,164.6 L704.4,164.6 L705.4,164.6 L706.4,164.6 L707.5,164.6 L708.5,164.6 L709.5,164.6 L710.5,164.6 L711.5,164.6 L712.5,164.6 L713.5,164.6 L714.5,164.6 L715.5,164.6 L716.2,165.9 L716.9,167.0 L717.5,168.0 L718.2,168.9 L718.9,169.6 L719.6,170.2 L720.2,170.7 L720.9,171.2 L721.6,171.6 L722.3,171.9 L722.9,172.2 L723.6,172.5 L724.3,172.7 L725.0,172.9 L725.7,173.0 L726.3,173.2 L727.0,173.3 L727.7,173.4 L728.4,173.5 L729.0,173.5 L729.7,173.6 L730.4,173.7 L731.1,173.7 L731.8,173.7 L732.4,173.8 L733.1,173.8 L733.8,173.8 L734.5,173.9 L735.1,173.9 L735.8,173.9 L736.5,173.9 L737.2,173.9 L737.8,173.9 L738.5,173.9 L739.2,174.0 L739.9,174.0 L740.6,174.0 L741.2,174.0 L741.9,174.0 L742.6,174.0 L743.3,174.0 L743.9,174.0 L744.6,174.0 L745.3,174.0 L746.0,174.0 L746.6,174.0 L747.3,174.0 L748.0,174.0" fill="none" stroke="#a9a9a9" stroke-width="1.05"/>
<path d="M550.0,174.0 L570.6,174.0 L571.6,172.2 L572.6,170.6 L573.6,169.2 L574.6,168.0 L575.6,166.9 L576.6,166.0 L577.6,165.2 L578.6,164.6 L579.7,164.0 L580.7,163.5 L581.7,163.0 L582.7,162.7 L583.7,162.3 L584.7,162.0 L585.7,161.8 L586.7,161.6 L587.7,161.4 L588.7,161.2 L589.7,161.1 L590.7,161.0 L591.7,160.9 L592.7,160.8 L593.7,160.7 L594.8,160.6 L595.8,160.6 L596.8,160.5 L597.8,160.5 L598.8,160.4 L599.8,160.4 L600.8,160.4 L601.8,160.4 L602.8,160.3 L603.8,160.3 L604.8,160.3 L605.8,160.3 L606.8,160.3 L607.8,160.3 L608.8,160.3 L609.8,160.3 L610.9,160.2 L611.9,160.2 L612.9,160.2 L613.9,160.2 L614.9,160.2 L615.9,160.2 L616.9,160.2 L617.9,160.2 L618.9,160.2 L619.9,160.2 L620.9,160.2 L621.9,160.2 L622.9,160.2 L623.9,160.2 L624.9,160.2 L625.9,160.2 L627.0,160.2 L628.0,160.2 L629.0,160.2 L630.0,160.2 L631.0,160.2 L632.0,160.2 L633.0,160.2 L634.0,160.2 L635.0,160.2 L636.0,160.2 L637.0,160.2 L638.0,160.2 L639.0,160.2 L640.0,160.2 L641.0,160.2 L642.0,160.2 L643.0,160.2 L644.1,160.2 L645.1,160.2 L646.1,160.2 L647.1,160.2 L648.1,160.2 L649.1,160.2 L650.1,160.2 L651.1,160.2 L652.1,160.2 L653.1,160.2 L654.1,160.2 L655.1,160.2 L656.1,160.2 L657.1,160.2 L658.1,160.2 L659.1,160.2 L660.2,160.2 L661.2,160.2 L662.2,160.2 L663.2,160.2 L664.2,160.2 L665.2,160.2 L666.2,160.2 L667.2,160.2 L668.2,160.2 L669.2,160.2 L670.2,160.2 L671.2,160.2 L672.2,160.2 L673.2,160.2 L674.2,160.2 L675.2,160.2 L676.3,160.2 L677.3,160.2 L678.3,160.2 L679.3,160.2 L680.3,160.2 L681.3,160.2 L682.3,160.2 L683.3,160.2 L684.3,160.2 L685.3,160.2 L686.3,160.2 L687.3,160.2 L688.3,160.2 L689.3,160.2 L690.3,160.2 L691.4,160.2 L692.4,160.2 L693.4,160.2 L694.4,160.2 L695.4,160.2 L696.4,160.2 L697.4,160.2 L698.4,160.2 L699.4,160.2 L700.4,160.2 L701.4,160.2 L702.4,160.2 L703.4,160.2 L704.4,160.2 L705.4,160.2 L706.4,160.2 L707.5,160.2 L708.5,160.2 L709.5,160.2 L710.5,160.2 L711.5,160.2 L712.5,160.2 L713.5,160.2 L714.5,160.2 L715.5,160.2 L716.2,162.1 L716.9,163.8 L717.5,165.2 L718.2,166.4 L718.9,167.5 L719.6,168.4 L720.2,169.2 L720.9,169.9 L721.6,170.4 L722.3,170.9 L722.9,171.4 L723.6,171.7 L724.3,172.0 L725.0,172.3 L725.7,172.6 L726.3,172.8 L727.0,172.9 L727.7,173.1 L728.4,173.2 L729.0,173.3 L729.7,173.4 L730.4,173.5 L731.1,173.6 L731.8,173.6 L732.4,173.7 L733.1,173.7 L733.8,173.8 L734.5,173.8 L735.1,173.8 L735.8,173.8 L736.5,173.9 L737.2,173.9 L737.8,173.9 L738.5,173.9 L739.2,173.9 L739.9,173.9 L740.6,173.9 L741.2,174.0 L741.9,174.0 L742.6,174.0 L743.3,174.0 L743.9,174.0 L744.6,174.0 L745.3,174.0 L746.0,174.0 L746.6,174.0 L747.3,174.0 L748.0,174.0" fill="none" stroke="#a9a9a9" stroke-width="1.05"/>
<path d="M550.0,174.5 H570.6" stroke="#b0b0b0" stroke-width="1.6"/>
<path d="M550.0,174.0 C553.4,174.0 566.9,174.6 570.5,174.0 C574.1,173.4 571.2,171.7 571.5,170.5 C571.8,169.3 572.0,168.3 572.5,167.1 C573.0,165.9 573.7,164.6 574.5,163.5 C575.3,162.4 576.3,161.5 577.3,160.6 C578.3,159.7 579.4,159.0 580.5,158.3 C581.6,157.6 582.2,157.2 583.8,156.5 C585.4,155.8 588.6,154.7 590.3,154.1 C592.0,153.5 593.2,153.2 594.0,152.8 C594.8,152.4 594.9,151.7 595.1,151.5 L595.5,70 L596.0,152.3 C596.3,152.4 597.0,152.7 598.0,152.9 C599.0,153.1 600.0,153.4 602.0,153.7 C604.0,154.0 606.8,154.6 610.0,154.9 C613.2,155.2 616.0,155.4 621.0,155.6 C626.0,155.8 631.8,155.8 640.0,155.8 C648.2,155.8 660.0,155.6 670.0,155.5 C680.0,155.4 692.5,155.4 700.0,155.4 C707.5,155.4 712.5,154.6 715.3,155.4 C718.0,156.2 716.0,158.4 716.5,160.0 C717.0,161.6 717.7,163.5 718.5,165.0 C719.3,166.5 720.3,167.9 721.5,169.0 C722.7,170.1 723.9,171.1 725.5,171.8 C727.1,172.5 728.9,172.9 731.0,173.3 C733.1,173.7 735.2,173.9 738.0,174.0 C740.8,174.1 746.3,174.0 748.0,174.0" fill="none" stroke="#111" stroke-width="1.25" stroke-linejoin="round"/>
<path d="M317.4,205.3 V184.2 H461.6 V205.3" fill="none" stroke="#bcbcbc" stroke-width="0.75"/>
<path d="M317.4,205.3 V186.4 H461.6 V205.3" fill="none" stroke="#7c7c7c" stroke-width="0.75"/>
<path d="M317.4,205.3 V188.4 H461.6 V205.3" fill="none" stroke="#7c7c7c" stroke-width="0.75"/>
<path d="M317.4,205.3 V190.6 H461.6 V205.3" fill="none" stroke="#7c7c7c" stroke-width="0.75"/>
<path d="M317.4,205.3 V193.0 H461.6 V205.3" fill="none" stroke="#7c7c7c" stroke-width="0.75"/>
<path d="M317.4,205.3 V195.4 H461.6 V205.3" fill="none" stroke="#7c7c7c" stroke-width="0.75"/>
<path d="M317.4,205.3 V197.6 H461.6 V205.3" fill="none" stroke="#7c7c7c" stroke-width="0.75"/>
<path d="M317.4,205.3 V200.1 H461.6 V205.3" fill="none" stroke="#7c7c7c" stroke-width="0.75"/>
<path d="M317.4,205.3 V202.5 H461.6 V205.3" fill="none" stroke="#7c7c7c" stroke-width="0.75"/>
<path d="M296.5,205.3 H317.4 M461.6,205.3 H494.7" fill="none" stroke="#7c7c7c" stroke-width="0.9"/>
<path d="M571.5,205.3 V184.2 H715.8 V205.3" fill="none" stroke="#bcbcbc" stroke-width="0.75"/>
<path d="M571.5,205.3 V186.4 H715.8 V205.3" fill="none" stroke="#7c7c7c" stroke-width="0.75"/>
<path d="M571.5,205.3 V188.4 H715.8 V205.3" fill="none" stroke="#7c7c7c" stroke-width="0.75"/>
<path d="M571.5,205.3 V190.6 H715.8 V205.3" fill="none" stroke="#7c7c7c" stroke-width="0.75"/>
<path d="M571.5,205.3 V193.0 H715.8 V205.3" fill="none" stroke="#7c7c7c" stroke-width="0.75"/>
<path d="M571.5,205.3 V195.4 H715.8 V205.3" fill="none" stroke="#7c7c7c" stroke-width="0.75"/>
<path d="M571.5,205.3 V197.6 H715.8 V205.3" fill="none" stroke="#7c7c7c" stroke-width="0.75"/>
<path d="M571.5,205.3 V200.1 H715.8 V205.3" fill="none" stroke="#7c7c7c" stroke-width="0.75"/>
<path d="M571.5,205.3 V202.5 H715.8 V205.3" fill="none" stroke="#7c7c7c" stroke-width="0.75"/>
<path d="M551.5,205.3 H571.5 M715.8,205.3 H748.0" fill="none" stroke="#7c7c7c" stroke-width="0.9"/>
<text x="369.3" y="22.4" font-size="14" font-weight="bold" text-anchor="middle" fill="#111" font-family='"Liberation Serif", serif'>Contra</text>
<text x="642.6" y="22.4" font-size="14" font-weight="bold" text-anchor="middle" fill="#111" font-family='"Liberation Serif", serif'>Ipsi</text>
<text x="253.1" y="178.2" font-size="12.5" text-anchor="start" fill="#111" font-family='"Liberation Serif", serif'>-55 mV</text>
<text x="510.7" y="180" font-size="12.5" text-anchor="start" fill="#111" font-family='"Liberation Serif", serif'>-58 mV</text>
<text x="383.6" y="179.8" font-size="12" text-anchor="middle" fill="#111" font-family='"Liberation Serif", serif'>190 pA</text>
<text x="383.5" y="214.3" font-size="12" text-anchor="middle" fill="#111" font-family='"Liberation Serif", serif'>30 pA</text>
<text x="638" y="180" font-size="12" text-anchor="middle" fill="#111" font-family='"Liberation Serif", serif'>190 pA</text>
<text x="638.2" y="214.1" font-size="12" text-anchor="middle" fill="#111" font-family='"Liberation Serif", serif'>30 pA</text>
<path d="M528.7,88.6 V116.2 H560.8" fill="none" stroke="#231f20" stroke-width="1.4"/>
<text x="524" y="102.5" font-size="12" text-anchor="middle" fill="#111" font-family='"Liberation Serif", serif' transform="rotate(-90 524 102.5)">20 mV</text>
<text x="545.5" y="129" font-size="12" text-anchor="middle" fill="#111" font-family='"Liberation Serif", serif'>100 ms</text>
<path d="M44.3,455.9 C46.1,455.8 52.4,455.2 55.0,455.0 C57.6,454.8 58.5,454.9 59.7,454.5 C60.9,454.1 61.8,454.3 62.4,452.9 C63.0,451.5 63.0,449.3 63.5,446.0 C64.0,442.7 64.6,437.5 65.1,433.2 C65.6,428.9 66.0,426.1 66.6,420.0 C67.2,413.9 68.1,403.5 68.9,396.9 C69.7,390.3 70.6,383.9 71.2,380.5 C71.8,377.1 72.2,377.0 72.6,376.2 C73.0,375.4 73.1,375.2 73.6,375.6 C74.1,376.0 74.5,375.8 75.5,378.4 C76.5,381.0 78.0,385.5 79.7,391.2 C81.4,396.9 83.5,405.9 85.4,412.5 C87.3,419.1 89.2,425.6 91.1,431.0 C93.0,436.4 94.9,441.6 96.8,445.2 C98.7,448.8 100.4,450.4 102.5,452.3 C104.6,454.2 106.5,455.4 109.6,456.5 C112.7,457.6 117.2,458.2 121.0,458.8 C124.8,459.4 130.4,460.0 132.3,460.2" fill="none" stroke="#55565a" stroke-width="1.35" stroke-dasharray="2.8,1.1"/>
<path d="M44.8,464.0 C46.5,463.9 52.2,463.9 55.0,463.7 C57.8,463.5 59.9,463.1 61.3,462.6 C62.7,462.1 63.1,461.9 63.6,460.8 C64.2,459.7 64.3,458.1 64.6,456.0 C64.9,453.9 65.0,451.7 65.3,448.0 C65.6,444.3 66.0,441.5 66.5,433.8 C67.0,426.1 67.7,409.3 68.0,402.0 C68.3,394.7 68.4,394.2 68.6,390.0 C68.8,385.8 68.8,381.4 69.1,376.5 C69.4,371.6 69.9,364.9 70.3,360.7 C70.7,356.5 71.3,353.4 71.7,351.5 C72.1,349.6 72.2,349.6 72.5,349.4 C72.8,349.2 73.2,349.7 73.6,350.2 C74.0,350.7 74.4,350.4 75.0,352.4 C75.6,354.3 76.5,357.3 77.4,361.9 C78.3,366.5 79.4,374.3 80.4,380.2 C81.4,386.1 82.5,391.5 83.5,397.2 C84.5,402.9 85.2,407.4 86.5,414.3 C87.8,421.2 89.9,432.6 91.4,438.7 C92.9,444.8 93.8,447.4 95.4,450.9 C97.0,454.3 98.9,457.1 101.0,459.4 C103.1,461.7 105.4,463.3 108.2,464.5 C111.0,465.7 114.1,465.9 118.1,466.5 C122.1,467.1 129.9,467.9 132.3,468.2" fill="none" stroke="#111" stroke-width="1.5" stroke-linejoin="round"/>
<path d="M42.1,452.9 H67.7" stroke="#111" stroke-width="0.9" stroke-dasharray="2.4,1"/>
<text x="0.8" y="457.5" font-size="12" text-anchor="start" fill="#111" font-family='"Liberation Serif", serif'>-35 mV</text>
<path d="M97,344.1 H108.7" stroke="#111" stroke-width="1.5"/>
<path d="M97,364.8 H107.6" stroke="#6d6e71" stroke-width="1.3" stroke-dasharray="2.9,1"/>
<text x="112.8" y="347.5" font-size="11" text-anchor="start" fill="#111" font-family='"Liberation Serif", serif'>Contra</text>
<text x="113.3" y="368.2" font-size="11" text-anchor="start" fill="#111" font-family='"Liberation Serif", serif'>Ipsi</text>
<path d="M109.2,397.6 V423.7 H141.6" fill="none" stroke="#231f20" stroke-width="1.3"/>
<text x="104.2" y="409.7" font-size="11" text-anchor="middle" fill="#111" font-family='"Liberation Serif", serif' transform="rotate(-90 104.2 409.7)">20 mV</text>
<text x="123.4" y="437.5" font-size="11" text-anchor="middle" fill="#111" font-family='"Liberation Serif", serif'>2 ms</text>
<path d="M215.6,323.0 V459.2 H350.7" fill="none" stroke="#111" stroke-width="1.4"/>
<path d="M209.9,323.7 H215.6" stroke="#111" stroke-width="1.4"/>
<text x="207.8" y="327.3" font-size="12.3" font-weight="bold" text-anchor="end" fill="#111" font-family='"Liberation Serif", serif'>300</text>
<path d="M209.9,340.6 H215.6" stroke="#111" stroke-width="1.4"/>
<text x="207.8" y="344.2" font-size="12.3" font-weight="bold" text-anchor="end" fill="#111" font-family='"Liberation Serif", serif'>250</text>
<path d="M209.9,357.6 H215.6" stroke="#111" stroke-width="1.4"/>
<text x="207.8" y="361.2" font-size="12.3" font-weight="bold" text-anchor="end" fill="#111" font-family='"Liberation Serif", serif'>200</text>
<path d="M209.9,374.5 H215.6" stroke="#111" stroke-width="1.4"/>
<text x="207.8" y="378.1" font-size="12.3" font-weight="bold" text-anchor="end" fill="#111" font-family='"Liberation Serif", serif'>150</text>
<path d="M209.9,391.4 H215.6" stroke="#111" stroke-width="1.4"/>
<text x="207.8" y="395.1" font-size="12.3" font-weight="bold" text-anchor="end" fill="#111" font-family='"Liberation Serif", serif'>100</text>
<path d="M209.9,408.4 H215.6" stroke="#111" stroke-width="1.4"/>
<text x="207.8" y="412.0" font-size="12.3" font-weight="bold" text-anchor="end" fill="#111" font-family='"Liberation Serif", serif'>50</text>
<path d="M209.9,425.3 H215.6" stroke="#111" stroke-width="1.4"/>
<text x="207.8" y="428.9" font-size="12.3" font-weight="bold" text-anchor="end" fill="#111" font-family='"Liberation Serif", serif'>0</text>
<path d="M209.9,442.3 H215.6" stroke="#111" stroke-width="1.4"/>
<text x="207.8" y="445.9" font-size="12.3" font-weight="bold" text-anchor="end" fill="#111" font-family='"Liberation Serif", serif'>-50</text>
<path d="M209.9,459.2 H215.6" stroke="#111" stroke-width="1.4"/>
<text x="207.8" y="462.8" font-size="12.3" font-weight="bold" text-anchor="end" fill="#111" font-family='"Liberation Serif", serif'>-100</text>
<path d="M215.6,459.2 v4.8" stroke="#111" stroke-width="1.3"/>
<path d="M227.9,459.2 v3.2" stroke="#111" stroke-width="1.3"/>
<path d="M240.2,459.2 v4.8" stroke="#111" stroke-width="1.3"/>
<path d="M252.5,459.2 v3.2" stroke="#111" stroke-width="1.3"/>
<path d="M264.8,459.2 v4.8" stroke="#111" stroke-width="1.3"/>
<path d="M277.1,459.2 v3.2" stroke="#111" stroke-width="1.3"/>
<path d="M289.4,459.2 v4.8" stroke="#111" stroke-width="1.3"/>
<path d="M301.7,459.2 v3.2" stroke="#111" stroke-width="1.3"/>
<path d="M314.0,459.2 v4.8" stroke="#111" stroke-width="1.3"/>
<path d="M326.3,459.2 v3.2" stroke="#111" stroke-width="1.3"/>
<path d="M338.6,459.2 v4.8" stroke="#111" stroke-width="1.3"/>
<path d="M350.9,459.2 v3.2" stroke="#111" stroke-width="1.3"/>
<text x="213.6" y="475.3" font-size="12" font-weight="bold" text-anchor="middle" fill="#111" font-family='"Liberation Serif", serif'>-60</text>
<text x="238.2" y="475.3" font-size="12" font-weight="bold" text-anchor="middle" fill="#111" font-family='"Liberation Serif", serif'>-40</text>
<text x="262.8" y="475.3" font-size="12" font-weight="bold" text-anchor="middle" fill="#111" font-family='"Liberation Serif", serif'>-20</text>
<text x="289.5" y="475.3" font-size="12" font-weight="bold" text-anchor="middle" fill="#111" font-family='"Liberation Serif", serif'>0</text>
<text x="314.1" y="475.3" font-size="12" font-weight="bold" text-anchor="middle" fill="#111" font-family='"Liberation Serif", serif'>20</text>
<text x="338.7" y="475.3" font-size="12" font-weight="bold" text-anchor="middle" fill="#111" font-family='"Liberation Serif", serif'>40</text>
<text x="288.8" y="488" font-size="12" font-weight="bold" text-anchor="middle" fill="#111" font-family='"Liberation Serif", serif'>Membrane Potential (mV)</text>
<text x="184.3" y="390.6" font-size="12.5" font-weight="bold" text-anchor="middle" fill="#111" font-family='"Liberation Serif", serif' transform="rotate(-90 184.3 390.6)">dV/dt (mV/ms)</text>
<path d="M190.5,421.8 H276.6" stroke="#bdbdbd" stroke-width="1.5" stroke-dasharray="3.4,2.7"/>
<path d="M216,425.2 L232,425.4 L240,425.2 L242.2,424.4 L243.4,422.3 L246,410.7 L252.2,398.5 L260.3,388.4 L270.6,380.3 L287.9,378.9 L300.9,390.4 L311,405.6 L315.5,418.8 L314.6,428 L309,435 L298.8,439.5 L284.6,441.5 L270.4,440.7 L256.2,436 L244,429 L240,426.6 L234.3,425.4" fill="none" stroke="#66676a" stroke-width="1.35" stroke-dasharray="2.8,1.3" stroke-linejoin="round"/>
<path d="M216.1,425 L231.3,425.5 L236.6,425 L240.3,418 L254,390.4 L264,376 L282.1,351.3 L300.7,343.1 L327.1,363.5 L334.3,390.4 L336.9,400 L336.9,400.0 C337.1,403.5 338.7,414.6 338.4,420.8 C338.1,427.0 336.8,432.9 335.3,437.0 C333.8,441.1 332.2,443.1 329.2,445.2 C326.1,447.3 321.7,448.7 317.0,449.6 C312.3,450.5 305.3,450.8 300.9,450.7 C296.5,450.6 294.0,449.9 290.6,449.3 C287.2,448.7 284.0,448.0 280.6,447.2 C277.2,446.4 273.4,445.5 270.0,444.3 C266.6,443.1 263.0,441.4 260.3,440.1 C257.6,438.8 256.0,437.7 254.0,436.3 C252.0,434.9 250.4,433.6 248.1,432.0 C245.8,430.4 242.0,428.1 240.0,427.0 C238.0,425.9 237.2,425.8 236.0,425.5 C234.8,425.2 233.3,425.5 232.8,425.5" fill="none" stroke="#111" stroke-width="1.5" stroke-linejoin="round"/>
<path d="M227,406.2 L232.2,414.1" stroke="#111" stroke-width="1.2"/>
<path d="M236.1,420.1 L228.6,416.4 L235.7,411.8 Z" fill="#111"/>
<path d="M259.2,409.2 L251.8,415.2" stroke="#111" stroke-width="1.2"/>
<path d="M246.2,419.7 L249.2,411.9 L254.4,418.4 Z" fill="#111"/>
<rect x="434.8" y="328.4" width="27.3" height="102.8" fill="#000"/>
<rect x="489.2" y="328.4" width="26.9" height="89.5" fill="#8e8e91"/>
<path d="M421.2,469.6 V328.4 " fill="none" stroke="#111" stroke-width="1.4"/>
<path d="M420.5,328.4 H530.8" fill="none" stroke="#111" stroke-width="1.2"/>
<path d="M478.1,328.4 v-1.8" stroke="#111" stroke-width="1"/>
<path d="M416.2,328.4 H421.2" stroke="#111" stroke-width="1.3"/>
<text x="414.3" y="332.6" font-size="12.3" font-weight="bold" text-anchor="end" fill="#111" font-family='"Liberation Serif", serif'>0</text>
<path d="M416.2,356.5 H421.2" stroke="#111" stroke-width="1.3"/>
<text x="414.3" y="360.7" font-size="12.3" font-weight="bold" text-anchor="end" fill="#111" font-family='"Liberation Serif", serif'>-10</text>
<path d="M416.2,384.7 H421.2" stroke="#111" stroke-width="1.3"/>
<text x="414.3" y="388.9" font-size="12.3" font-weight="bold" text-anchor="end" fill="#111" font-family='"Liberation Serif", serif'>-20</text>
<path d="M416.2,412.8 H421.2" stroke="#111" stroke-width="1.3"/>
<text x="414.3" y="417.0" font-size="12.3" font-weight="bold" text-anchor="end" fill="#111" font-family='"Liberation Serif", serif'>-30</text>
<path d="M416.2,441.0 H421.2" stroke="#111" stroke-width="1.3"/>
<text x="414.3" y="445.2" font-size="12.3" font-weight="bold" text-anchor="end" fill="#111" font-family='"Liberation Serif", serif'>-40</text>
<path d="M416.2,469.1 H421.2" stroke="#111" stroke-width="1.3"/>
<text x="414.3" y="473.3" font-size="12.3" font-weight="bold" text-anchor="end" fill="#111" font-family='"Liberation Serif", serif'>-50</text>
<path d="M448.3,431 V438 M441.2,438 H455.1" stroke="#111" stroke-width="1.2" fill="none"/>
<path d="M502.7,417.5 V422.4 M495.6,422.4 H509.5" stroke="#111" stroke-width="1.2" fill="none"/>
<path d="M448.3,441.8 V447.2 H503.3 V441.8" stroke="#222" stroke-width="0.9" fill="none"/>
<text x="476.1" y="460.4" font-size="11" text-anchor="middle" fill="#111" font-family='"Liberation Serif", serif'>P = 0.0456</text>
<text x="450.2" y="322" font-size="12" font-weight="bold" text-anchor="middle" fill="#111" font-family='"Liberation Serif", serif'>Contra</text>
<text x="504" y="322" font-size="12" font-weight="bold" text-anchor="middle" fill="#111" font-family='"Liberation Serif", serif'>Ipsi</text>
<text x="449.3" y="375.7" font-size="11.5" text-anchor="middle" fill="#fff" font-family='"Liberation Serif", serif'>31</text>
<text x="503.3" y="375.7" font-size="11.5" text-anchor="middle" fill="#fff" font-family='"Liberation Serif", serif'>35</text>
<text x="391" y="395.8" font-size="12.5" font-weight="bold" text-anchor="middle" fill="#111" font-family='"Liberation Serif", serif' transform="rotate(-90 391 395.8)">AP Threshold (mV)</text>
<rect x="622.3" y="341.2" width="26.7" height="125.2" fill="#000"/>
<rect x="676.3" y="378.9" width="26.6" height="87.5" fill="#8e8e91"/>
<path d="M609.1,325.4 V466.4 H718.3" fill="none" stroke="#111" stroke-width="1.4"/>
<path d="M665,466.4 v2" stroke="#111" stroke-width="1"/>
<path d="M603.7,326.0 H609.1" stroke="#111" stroke-width="1.3"/>
<text x="601.5" y="330.2" font-size="12.3" font-weight="bold" text-anchor="end" fill="#111" font-family='"Liberation Serif", serif'>80</text>
<path d="M603.7,361.1 H609.1" stroke="#111" stroke-width="1.3"/>
<text x="601.5" y="365.3" font-size="12.3" font-weight="bold" text-anchor="end" fill="#111" font-family='"Liberation Serif", serif'>60</text>
<path d="M603.7,396.2 H609.1" stroke="#111" stroke-width="1.3"/>
<text x="601.5" y="400.4" font-size="12.3" font-weight="bold" text-anchor="end" fill="#111" font-family='"Liberation Serif", serif'>40</text>
<path d="M603.7,431.3 H609.1" stroke="#111" stroke-width="1.3"/>
<text x="601.5" y="435.5" font-size="12.3" font-weight="bold" text-anchor="end" fill="#111" font-family='"Liberation Serif", serif'>20</text>
<path d="M603.7,466.4 H609.1" stroke="#111" stroke-width="1.3"/>
<text x="601.5" y="470.6" font-size="12.3" font-weight="bold" text-anchor="end" fill="#111" font-family='"Liberation Serif", serif'>0</text>
<path d="M635.7,341.5 V336.9 M628.7,336.9 H642.8" stroke="#111" stroke-width="1.2" fill="none"/>
<path d="M689.5,379 V373.2 M682.2,373.2 H696.5" stroke="#111" stroke-width="1.2" fill="none"/>
<path d="M635.7,331.6 V326.5 H690.6 V332" stroke="#222" stroke-width="0.9" fill="none"/>
<text x="660.5" y="321.3" font-size="11" text-anchor="middle" fill="#111" font-family='"Liberation Serif", serif'>P &lt; 0.0001</text>
<text x="638.3" y="478.5" font-size="12" font-weight="bold" text-anchor="middle" fill="#111" font-family='"Liberation Serif", serif'>Contra</text>
<text x="691.5" y="478.5" font-size="12" font-weight="bold" text-anchor="middle" fill="#111" font-family='"Liberation Serif", serif'>Ipsi</text>
<text x="635.7" y="425.2" font-size="11.5" text-anchor="middle" fill="#fff" font-family='"Liberation Serif", serif'>31</text>
<text x="688.9" y="425.2" font-size="11.5" text-anchor="middle" fill="#fff" font-family='"Liberation Serif", serif'>35</text>
<text x="578.3" y="403" font-size="12.5" font-weight="bold" text-anchor="middle" fill="#111" font-family='"Liberation Serif", serif' transform="rotate(-90 578.3 403)">AP Amplitude (mV)</text>
<text transform="translate(5.8 9.4) scale(1.12 1)" x="0" y="0" font-size="10" font-weight="bold" fill="#111" stroke="#111" stroke-width="0.3" font-family='"Liberation Sans", sans-serif'>A</text>
<text transform="translate(287.5 9.2) scale(1.12 1)" x="0" y="0" font-size="10" font-weight="bold" fill="#111" stroke="#111" stroke-width="0.3" font-family='"Liberation Sans", sans-serif'>B</text>
<text transform="translate(5.7 312.8) scale(1.12 1)" x="0" y="0" font-size="10" font-weight="bold" fill="#111" stroke="#111" stroke-width="0.3" font-family='"Liberation Sans", sans-serif'>C</text>
<text transform="translate(168.7 312.8) scale(1.12 1)" x="0" y="0" font-size="10" font-weight="bold" fill="#111" stroke="#111" stroke-width="0.3" font-family='"Liberation Sans", sans-serif'>D</text>
<text transform="translate(382.4 312.8) scale(1.12 1)" x="0" y="0" font-size="10" font-weight="bold" fill="#111" stroke="#111" stroke-width="0.3" font-family='"Liberation Sans", sans-serif'>E</text>
<text transform="translate(568.3 312.8) scale(1.12 1)" x="0" y="0" font-size="10" font-weight="bold" fill="#111" stroke="#111" stroke-width="0.3" font-family='"Liberation Sans", sans-serif'>F</text>
</svg>
</body></html>
